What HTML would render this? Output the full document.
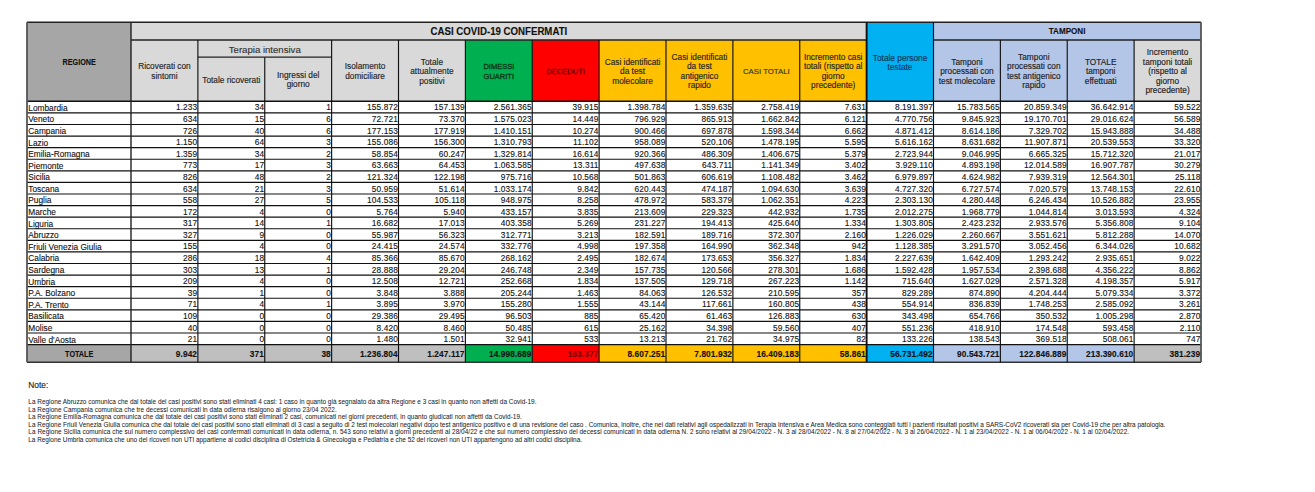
<!DOCTYPE html>
<html><head><meta charset="utf-8"><title>COVID-19</title>
<style>
html,body{margin:0;padding:0;background:#fff;}
body{width:1315px;height:492px;position:relative;overflow:hidden;font-family:"Liberation Sans", sans-serif;-webkit-text-stroke:0.12px currentColor;}
svg{position:absolute;left:0;top:0;}
</style></head><body>
<svg width="1315" height="492" viewBox="0 0 1315 492"><rect x="27.00" y="22.30" width="104.00" height="79.00" fill="#A6A6A6"/><rect x="131.00" y="22.30" width="735.62" height="17.70" fill="#D9D9D9"/><rect x="866.62" y="22.30" width="66.88" height="79.00" fill="#00B0F0"/><rect x="933.50" y="22.30" width="267.50" height="17.70" fill="#B4C6E7"/><rect x="131.00" y="40.00" width="66.88" height="61.30" fill="#D9D9D9"/><rect x="197.88" y="40.00" width="66.88" height="61.30" fill="#D9D9D9"/><rect x="264.75" y="40.00" width="66.88" height="61.30" fill="#D9D9D9"/><rect x="331.62" y="40.00" width="66.88" height="61.30" fill="#D9D9D9"/><rect x="398.50" y="40.00" width="66.88" height="61.30" fill="#D9D9D9"/><rect x="465.38" y="40.00" width="66.88" height="61.30" fill="#00B050"/><rect x="532.25" y="40.00" width="66.88" height="61.30" fill="#FF0000"/><rect x="599.12" y="40.00" width="66.88" height="61.30" fill="#FFC000"/><rect x="666.00" y="40.00" width="66.88" height="61.30" fill="#FFC000"/><rect x="732.88" y="40.00" width="66.88" height="61.30" fill="#FFC000"/><rect x="799.75" y="40.00" width="66.88" height="61.30" fill="#FFC000"/><rect x="933.50" y="40.00" width="66.88" height="61.30" fill="#B4C6E7"/><rect x="1000.38" y="40.00" width="66.88" height="61.30" fill="#B4C6E7"/><rect x="1067.25" y="40.00" width="66.88" height="61.30" fill="#B4C6E7"/><rect x="1134.12" y="40.00" width="66.88" height="61.30" fill="#D9D9D9"/><rect x="27.00" y="344.61" width="104.00" height="17.59" fill="#A6A6A6"/><rect x="131.00" y="344.61" width="66.88" height="17.59" fill="#BFBFBF"/><rect x="197.88" y="344.61" width="66.88" height="17.59" fill="#BFBFBF"/><rect x="264.75" y="344.61" width="66.88" height="17.59" fill="#BFBFBF"/><rect x="331.62" y="344.61" width="66.88" height="17.59" fill="#BFBFBF"/><rect x="398.50" y="344.61" width="66.88" height="17.59" fill="#BFBFBF"/><rect x="465.38" y="344.61" width="66.88" height="17.59" fill="#00B050"/><rect x="532.25" y="344.61" width="66.88" height="17.59" fill="#FF0000"/><rect x="599.12" y="344.61" width="66.88" height="17.59" fill="#FFC000"/><rect x="666.00" y="344.61" width="66.88" height="17.59" fill="#FFC000"/><rect x="732.88" y="344.61" width="66.88" height="17.59" fill="#FFC000"/><rect x="799.75" y="344.61" width="66.88" height="17.59" fill="#FFC000"/><rect x="866.62" y="344.61" width="66.88" height="17.59" fill="#00B0F0"/><rect x="933.50" y="344.61" width="66.88" height="17.59" fill="#B4C6E7"/><rect x="1000.38" y="344.61" width="66.88" height="17.59" fill="#B4C6E7"/><rect x="1067.25" y="344.61" width="66.88" height="17.59" fill="#B4C6E7"/><rect x="1134.12" y="344.61" width="66.88" height="17.59" fill="#BFBFBF"/><line x1="27.00" y1="22.30" x2="1201.00" y2="22.30" stroke="#222" stroke-width="1.4"/><line x1="131.00" y1="40.00" x2="866.62" y2="40.00" stroke="#222" stroke-width="1.3"/><line x1="933.50" y1="40.00" x2="1201.00" y2="40.00" stroke="#222" stroke-width="1.3"/><line x1="197.88" y1="57.20" x2="331.62" y2="57.20" stroke="#222" stroke-width="1.3"/><line x1="27.00" y1="101.30" x2="1201.00" y2="101.30" stroke="#111" stroke-width="1.4"/><line x1="27.00" y1="112.89" x2="1201.00" y2="112.89" stroke="#111" stroke-width="1.15"/><line x1="27.00" y1="124.47" x2="1201.00" y2="124.47" stroke="#111" stroke-width="1.15"/><line x1="27.00" y1="136.06" x2="1201.00" y2="136.06" stroke="#111" stroke-width="1.15"/><line x1="27.00" y1="147.64" x2="1201.00" y2="147.64" stroke="#111" stroke-width="1.15"/><line x1="27.00" y1="159.23" x2="1201.00" y2="159.23" stroke="#111" stroke-width="1.15"/><line x1="27.00" y1="170.82" x2="1201.00" y2="170.82" stroke="#111" stroke-width="1.15"/><line x1="27.00" y1="182.40" x2="1201.00" y2="182.40" stroke="#111" stroke-width="1.15"/><line x1="27.00" y1="193.99" x2="1201.00" y2="193.99" stroke="#111" stroke-width="1.15"/><line x1="27.00" y1="205.57" x2="1201.00" y2="205.57" stroke="#111" stroke-width="1.15"/><line x1="27.00" y1="217.16" x2="1201.00" y2="217.16" stroke="#111" stroke-width="1.15"/><line x1="27.00" y1="228.75" x2="1201.00" y2="228.75" stroke="#111" stroke-width="1.15"/><line x1="27.00" y1="240.33" x2="1201.00" y2="240.33" stroke="#111" stroke-width="1.15"/><line x1="27.00" y1="251.92" x2="1201.00" y2="251.92" stroke="#111" stroke-width="1.15"/><line x1="27.00" y1="263.50" x2="1201.00" y2="263.50" stroke="#111" stroke-width="1.15"/><line x1="27.00" y1="275.09" x2="1201.00" y2="275.09" stroke="#111" stroke-width="1.15"/><line x1="27.00" y1="286.68" x2="1201.00" y2="286.68" stroke="#111" stroke-width="1.15"/><line x1="27.00" y1="298.26" x2="1201.00" y2="298.26" stroke="#111" stroke-width="1.15"/><line x1="27.00" y1="309.85" x2="1201.00" y2="309.85" stroke="#111" stroke-width="1.15"/><line x1="27.00" y1="321.43" x2="1201.00" y2="321.43" stroke="#111" stroke-width="1.15"/><line x1="27.00" y1="333.02" x2="1201.00" y2="333.02" stroke="#111" stroke-width="1.15"/><line x1="27.00" y1="344.61" x2="1201.00" y2="344.61" stroke="#111" stroke-width="1.4"/><line x1="27.00" y1="362.20" x2="1201.00" y2="362.20" stroke="#333" stroke-width="1.6"/><line x1="27.00" y1="22.30" x2="27.00" y2="362.20" stroke="#555" stroke-width="1.8"/><line x1="131.00" y1="22.30" x2="131.00" y2="362.20" stroke="#222" stroke-width="1.4"/><line x1="197.88" y1="40.00" x2="197.88" y2="362.20" stroke="#111" stroke-width="1.15"/><line x1="264.75" y1="57.20" x2="264.75" y2="362.20" stroke="#111" stroke-width="1.15"/><line x1="331.62" y1="40.00" x2="331.62" y2="362.20" stroke="#111" stroke-width="1.15"/><line x1="398.50" y1="40.00" x2="398.50" y2="362.20" stroke="#111" stroke-width="1.15"/><line x1="465.38" y1="40.00" x2="465.38" y2="362.20" stroke="#111" stroke-width="1.15"/><line x1="532.25" y1="40.00" x2="532.25" y2="362.20" stroke="#111" stroke-width="1.15"/><line x1="599.12" y1="40.00" x2="599.12" y2="362.20" stroke="#111" stroke-width="1.15"/><line x1="666.00" y1="40.00" x2="666.00" y2="362.20" stroke="#111" stroke-width="1.15"/><line x1="732.88" y1="40.00" x2="732.88" y2="362.20" stroke="#111" stroke-width="1.15"/><line x1="799.75" y1="40.00" x2="799.75" y2="362.20" stroke="#111" stroke-width="1.15"/><line x1="866.62" y1="22.30" x2="866.62" y2="362.20" stroke="#111" stroke-width="1.9"/><line x1="933.50" y1="22.30" x2="933.50" y2="362.20" stroke="#111" stroke-width="1.15"/><line x1="1000.38" y1="40.00" x2="1000.38" y2="362.20" stroke="#111" stroke-width="1.15"/><line x1="1067.25" y1="40.00" x2="1067.25" y2="362.20" stroke="#111" stroke-width="1.15"/><line x1="1134.12" y1="40.00" x2="1134.12" y2="362.20" stroke="#111" stroke-width="1.15"/><line x1="1201.00" y1="22.30" x2="1201.00" y2="362.20" stroke="#555" stroke-width="1.8"/></svg>
<div style="position:absolute;left:27.00px;top:22.60px;width:104.00px;height:79.00px;display:flex;align-items:center;justify-content:center;text-align:center;font-size:8.3px;font-weight:bold;color:#111;"><span style="display:inline-block;transform:scaleX(0.87)">REGIONE</span></div>
<div style="position:absolute;left:131.00px;top:22.50px;width:735.62px;height:17.70px;display:flex;align-items:center;justify-content:center;text-align:center;font-size:11.3px;font-weight:bold;color:#111;"><span style="display:inline-block;transform:scaleX(0.855)">CASI COVID-19 CONFERMATI</span></div>
<div style="position:absolute;left:933.50px;top:22.50px;width:267.50px;height:17.70px;display:flex;align-items:center;justify-content:center;text-align:center;font-size:9.3px;font-weight:bold;color:#111;"><span style="display:inline-block;transform:scaleX(0.87)">TAMPONI</span></div>
<div style="position:absolute;left:197.88px;top:40.80px;width:133.75px;height:17.20px;display:flex;align-items:center;justify-content:center;text-align:center;font-size:9.6px;font-weight:normal;color:#333;-webkit-text-stroke:0.15px currentColor;"><span>Terapia intensiva</span></div>
<div style="position:absolute;left:131.00px;top:41.20px;width:66.88px;height:61.30px;display:flex;align-items:center;justify-content:center;text-align:center;font-size:8.3px;font-weight:normal;color:#262626;line-height:9.4px;-webkit-text-stroke:0.15px currentColor;"><span>Ricoverati con<br>sintomi</span></div>
<div style="position:absolute;left:197.88px;top:58.40px;width:66.88px;height:44.10px;display:flex;align-items:center;justify-content:center;text-align:center;font-size:8.3px;font-weight:normal;color:#262626;line-height:9.4px;-webkit-text-stroke:0.15px currentColor;"><span>Totale ricoverati</span></div>
<div style="position:absolute;left:264.75px;top:58.40px;width:66.88px;height:44.10px;display:flex;align-items:center;justify-content:center;text-align:center;font-size:8.3px;font-weight:normal;color:#262626;line-height:9.4px;-webkit-text-stroke:0.15px currentColor;"><span>Ingressi del<br>giorno</span></div>
<div style="position:absolute;left:331.62px;top:41.20px;width:66.88px;height:61.30px;display:flex;align-items:center;justify-content:center;text-align:center;font-size:8.3px;font-weight:normal;color:#262626;line-height:9.4px;-webkit-text-stroke:0.15px currentColor;"><span>Isolamento<br>domiciliare</span></div>
<div style="position:absolute;left:398.50px;top:41.20px;width:66.88px;height:61.30px;display:flex;align-items:center;justify-content:center;text-align:center;font-size:8.3px;font-weight:normal;color:#262626;line-height:9.4px;-webkit-text-stroke:0.15px currentColor;"><span>Totale<br>attualmente<br>positivi</span></div>
<div style="position:absolute;left:465.38px;top:41.20px;width:66.88px;height:61.30px;display:flex;align-items:center;justify-content:center;text-align:center;font-size:7.5px;font-weight:normal;color:#073514;line-height:10.0px;-webkit-text-stroke:0.3px currentColor;"><span>DIMESSI<br>GUARITI</span></div>
<div style="position:absolute;left:532.25px;top:41.20px;width:66.88px;height:61.30px;display:flex;align-items:center;justify-content:center;text-align:center;font-size:7.5px;font-weight:normal;color:#5a0000;line-height:10.0px;-webkit-text-stroke:0.3px currentColor;"><span>DECEDUTI</span></div>
<div style="position:absolute;left:599.12px;top:41.20px;width:66.88px;height:61.30px;display:flex;align-items:center;justify-content:center;text-align:center;font-size:8.3px;font-weight:normal;color:#262626;line-height:9.4px;-webkit-text-stroke:0.15px currentColor;"><span>Casi identificati<br>da test<br>molecolare</span></div>
<div style="position:absolute;left:666.00px;top:41.20px;width:66.88px;height:61.30px;display:flex;align-items:center;justify-content:center;text-align:center;font-size:8.3px;font-weight:normal;color:#262626;line-height:9.4px;-webkit-text-stroke:0.15px currentColor;"><span>Casi identificati<br>da test<br>antigenico<br>rapido</span></div>
<div style="position:absolute;left:732.88px;top:41.20px;width:66.88px;height:61.30px;display:flex;align-items:center;justify-content:center;text-align:center;font-size:7.8px;font-weight:normal;color:#333;line-height:9.4px;-webkit-text-stroke:0.15px currentColor;"><span>CASI TOTALI</span></div>
<div style="position:absolute;left:799.75px;top:41.20px;width:66.88px;height:61.30px;display:flex;align-items:center;justify-content:center;text-align:center;font-size:8.3px;font-weight:normal;color:#262626;line-height:9.4px;-webkit-text-stroke:0.15px currentColor;"><span>Incremento casi<br>totali (rispetto al<br>giorno<br>precedente)</span></div>
<div style="position:absolute;left:866.62px;top:23.50px;width:66.88px;height:79.00px;display:flex;align-items:center;justify-content:center;text-align:center;font-size:8.3px;font-weight:normal;color:#14365a;line-height:9.4px;-webkit-text-stroke:0.15px currentColor;"><span>Totale persone<br>testate</span></div>
<div style="position:absolute;left:933.50px;top:41.20px;width:66.88px;height:61.30px;display:flex;align-items:center;justify-content:center;text-align:center;font-size:8.3px;font-weight:normal;color:#222;line-height:9.4px;-webkit-text-stroke:0.15px currentColor;"><span>Tamponi<br>processati con<br>test molecolare</span></div>
<div style="position:absolute;left:1000.38px;top:41.20px;width:66.88px;height:61.30px;display:flex;align-items:center;justify-content:center;text-align:center;font-size:8.3px;font-weight:normal;color:#222;line-height:9.4px;-webkit-text-stroke:0.15px currentColor;"><span>Tamponi<br>processati con<br>test antigenico<br>rapido</span></div>
<div style="position:absolute;left:1067.25px;top:41.20px;width:66.88px;height:61.30px;display:flex;align-items:center;justify-content:center;text-align:center;font-size:8.3px;font-weight:normal;color:#222;line-height:9.4px;-webkit-text-stroke:0.15px currentColor;"><span>TOTALE<br>tamponi<br>effettuati</span></div>
<div style="position:absolute;left:1134.12px;top:41.20px;width:66.88px;height:61.30px;display:flex;align-items:center;justify-content:center;text-align:center;font-size:8.3px;font-weight:normal;color:#222;line-height:9.4px;-webkit-text-stroke:0.15px currentColor;"><span>Incremento<br>tamponi totali<br>(rispetto al<br>giorno<br>precedente)</span></div>
<div style="position:absolute;left:28.30px;top:102.80px;height:11.59px;line-height:11.59px;font-size:8.3px;color:#111;white-space:nowrap">Lombardia</div>
<div style="position:absolute;right:1117.83px;top:102.40px;height:11.59px;line-height:11.59px;font-size:8.3px;color:#111;white-space:nowrap;letter-spacing:0.12px;margin-right:-0.12px">1.233</div>
<div style="position:absolute;right:1050.95px;top:102.40px;height:11.59px;line-height:11.59px;font-size:8.3px;color:#111;white-space:nowrap;letter-spacing:0.12px;margin-right:-0.12px">34</div>
<div style="position:absolute;right:984.08px;top:102.40px;height:11.59px;line-height:11.59px;font-size:8.3px;color:#111;white-space:nowrap;letter-spacing:0.12px;margin-right:-0.12px">1</div>
<div style="position:absolute;right:917.20px;top:102.40px;height:11.59px;line-height:11.59px;font-size:8.3px;color:#111;white-space:nowrap;letter-spacing:0.12px;margin-right:-0.12px">155.872</div>
<div style="position:absolute;right:850.33px;top:102.40px;height:11.59px;line-height:11.59px;font-size:8.3px;color:#111;white-space:nowrap;letter-spacing:0.12px;margin-right:-0.12px">157.139</div>
<div style="position:absolute;right:783.45px;top:102.40px;height:11.59px;line-height:11.59px;font-size:8.3px;color:#111;white-space:nowrap;letter-spacing:0.12px;margin-right:-0.12px">2.561.365</div>
<div style="position:absolute;right:716.58px;top:102.40px;height:11.59px;line-height:11.59px;font-size:8.3px;color:#111;white-space:nowrap;letter-spacing:0.12px;margin-right:-0.12px">39.915</div>
<div style="position:absolute;right:649.70px;top:102.40px;height:11.59px;line-height:11.59px;font-size:8.3px;color:#111;white-space:nowrap;letter-spacing:0.12px;margin-right:-0.12px">1.398.784</div>
<div style="position:absolute;right:582.83px;top:102.40px;height:11.59px;line-height:11.59px;font-size:8.3px;color:#111;white-space:nowrap;letter-spacing:0.12px;margin-right:-0.12px">1.359.635</div>
<div style="position:absolute;right:515.95px;top:102.40px;height:11.59px;line-height:11.59px;font-size:8.3px;color:#111;white-space:nowrap;letter-spacing:0.12px;margin-right:-0.12px">2.758.419</div>
<div style="position:absolute;right:449.08px;top:102.40px;height:11.59px;line-height:11.59px;font-size:8.3px;color:#111;white-space:nowrap;letter-spacing:0.12px;margin-right:-0.12px">7.631</div>
<div style="position:absolute;right:382.20px;top:102.40px;height:11.59px;line-height:11.59px;font-size:8.3px;color:#111;white-space:nowrap;letter-spacing:0.12px;margin-right:-0.12px">8.191.397</div>
<div style="position:absolute;right:315.33px;top:102.40px;height:11.59px;line-height:11.59px;font-size:8.3px;color:#111;white-space:nowrap;letter-spacing:0.12px;margin-right:-0.12px">15.783.565</div>
<div style="position:absolute;right:248.45px;top:102.40px;height:11.59px;line-height:11.59px;font-size:8.3px;color:#111;white-space:nowrap;letter-spacing:0.12px;margin-right:-0.12px">20.859.349</div>
<div style="position:absolute;right:181.58px;top:102.40px;height:11.59px;line-height:11.59px;font-size:8.3px;color:#111;white-space:nowrap;letter-spacing:0.12px;margin-right:-0.12px">36.642.914</div>
<div style="position:absolute;right:114.70px;top:102.40px;height:11.59px;line-height:11.59px;font-size:8.3px;color:#111;white-space:nowrap;letter-spacing:0.12px;margin-right:-0.12px">59.522</div>
<div style="position:absolute;left:28.30px;top:114.39px;height:11.59px;line-height:11.59px;font-size:8.3px;color:#111;white-space:nowrap">Veneto</div>
<div style="position:absolute;right:1117.83px;top:113.99px;height:11.59px;line-height:11.59px;font-size:8.3px;color:#111;white-space:nowrap;letter-spacing:0.12px;margin-right:-0.12px">634</div>
<div style="position:absolute;right:1050.95px;top:113.99px;height:11.59px;line-height:11.59px;font-size:8.3px;color:#111;white-space:nowrap;letter-spacing:0.12px;margin-right:-0.12px">15</div>
<div style="position:absolute;right:984.08px;top:113.99px;height:11.59px;line-height:11.59px;font-size:8.3px;color:#111;white-space:nowrap;letter-spacing:0.12px;margin-right:-0.12px">6</div>
<div style="position:absolute;right:917.20px;top:113.99px;height:11.59px;line-height:11.59px;font-size:8.3px;color:#111;white-space:nowrap;letter-spacing:0.12px;margin-right:-0.12px">72.721</div>
<div style="position:absolute;right:850.33px;top:113.99px;height:11.59px;line-height:11.59px;font-size:8.3px;color:#111;white-space:nowrap;letter-spacing:0.12px;margin-right:-0.12px">73.370</div>
<div style="position:absolute;right:783.45px;top:113.99px;height:11.59px;line-height:11.59px;font-size:8.3px;color:#111;white-space:nowrap;letter-spacing:0.12px;margin-right:-0.12px">1.575.023</div>
<div style="position:absolute;right:716.58px;top:113.99px;height:11.59px;line-height:11.59px;font-size:8.3px;color:#111;white-space:nowrap;letter-spacing:0.12px;margin-right:-0.12px">14.449</div>
<div style="position:absolute;right:649.70px;top:113.99px;height:11.59px;line-height:11.59px;font-size:8.3px;color:#111;white-space:nowrap;letter-spacing:0.12px;margin-right:-0.12px">796.929</div>
<div style="position:absolute;right:582.83px;top:113.99px;height:11.59px;line-height:11.59px;font-size:8.3px;color:#111;white-space:nowrap;letter-spacing:0.12px;margin-right:-0.12px">865.913</div>
<div style="position:absolute;right:515.95px;top:113.99px;height:11.59px;line-height:11.59px;font-size:8.3px;color:#111;white-space:nowrap;letter-spacing:0.12px;margin-right:-0.12px">1.662.842</div>
<div style="position:absolute;right:449.08px;top:113.99px;height:11.59px;line-height:11.59px;font-size:8.3px;color:#111;white-space:nowrap;letter-spacing:0.12px;margin-right:-0.12px">6.121</div>
<div style="position:absolute;right:382.20px;top:113.99px;height:11.59px;line-height:11.59px;font-size:8.3px;color:#111;white-space:nowrap;letter-spacing:0.12px;margin-right:-0.12px">4.770.756</div>
<div style="position:absolute;right:315.33px;top:113.99px;height:11.59px;line-height:11.59px;font-size:8.3px;color:#111;white-space:nowrap;letter-spacing:0.12px;margin-right:-0.12px">9.845.923</div>
<div style="position:absolute;right:248.45px;top:113.99px;height:11.59px;line-height:11.59px;font-size:8.3px;color:#111;white-space:nowrap;letter-spacing:0.12px;margin-right:-0.12px">19.170.701</div>
<div style="position:absolute;right:181.58px;top:113.99px;height:11.59px;line-height:11.59px;font-size:8.3px;color:#111;white-space:nowrap;letter-spacing:0.12px;margin-right:-0.12px">29.016.624</div>
<div style="position:absolute;right:114.70px;top:113.99px;height:11.59px;line-height:11.59px;font-size:8.3px;color:#111;white-space:nowrap;letter-spacing:0.12px;margin-right:-0.12px">56.589</div>
<div style="position:absolute;left:28.30px;top:125.97px;height:11.59px;line-height:11.59px;font-size:8.3px;color:#111;white-space:nowrap">Campania</div>
<div style="position:absolute;right:1117.83px;top:125.57px;height:11.59px;line-height:11.59px;font-size:8.3px;color:#111;white-space:nowrap;letter-spacing:0.12px;margin-right:-0.12px">726</div>
<div style="position:absolute;right:1050.95px;top:125.57px;height:11.59px;line-height:11.59px;font-size:8.3px;color:#111;white-space:nowrap;letter-spacing:0.12px;margin-right:-0.12px">40</div>
<div style="position:absolute;right:984.08px;top:125.57px;height:11.59px;line-height:11.59px;font-size:8.3px;color:#111;white-space:nowrap;letter-spacing:0.12px;margin-right:-0.12px">6</div>
<div style="position:absolute;right:917.20px;top:125.57px;height:11.59px;line-height:11.59px;font-size:8.3px;color:#111;white-space:nowrap;letter-spacing:0.12px;margin-right:-0.12px">177.153</div>
<div style="position:absolute;right:850.33px;top:125.57px;height:11.59px;line-height:11.59px;font-size:8.3px;color:#111;white-space:nowrap;letter-spacing:0.12px;margin-right:-0.12px">177.919</div>
<div style="position:absolute;right:783.45px;top:125.57px;height:11.59px;line-height:11.59px;font-size:8.3px;color:#111;white-space:nowrap;letter-spacing:0.12px;margin-right:-0.12px">1.410.151</div>
<div style="position:absolute;right:716.58px;top:125.57px;height:11.59px;line-height:11.59px;font-size:8.3px;color:#111;white-space:nowrap;letter-spacing:0.12px;margin-right:-0.12px">10.274</div>
<div style="position:absolute;right:649.70px;top:125.57px;height:11.59px;line-height:11.59px;font-size:8.3px;color:#111;white-space:nowrap;letter-spacing:0.12px;margin-right:-0.12px">900.466</div>
<div style="position:absolute;right:582.83px;top:125.57px;height:11.59px;line-height:11.59px;font-size:8.3px;color:#111;white-space:nowrap;letter-spacing:0.12px;margin-right:-0.12px">697.878</div>
<div style="position:absolute;right:515.95px;top:125.57px;height:11.59px;line-height:11.59px;font-size:8.3px;color:#111;white-space:nowrap;letter-spacing:0.12px;margin-right:-0.12px">1.598.344</div>
<div style="position:absolute;right:449.08px;top:125.57px;height:11.59px;line-height:11.59px;font-size:8.3px;color:#111;white-space:nowrap;letter-spacing:0.12px;margin-right:-0.12px">6.662</div>
<div style="position:absolute;right:382.20px;top:125.57px;height:11.59px;line-height:11.59px;font-size:8.3px;color:#111;white-space:nowrap;letter-spacing:0.12px;margin-right:-0.12px">4.871.412</div>
<div style="position:absolute;right:315.33px;top:125.57px;height:11.59px;line-height:11.59px;font-size:8.3px;color:#111;white-space:nowrap;letter-spacing:0.12px;margin-right:-0.12px">8.614.186</div>
<div style="position:absolute;right:248.45px;top:125.57px;height:11.59px;line-height:11.59px;font-size:8.3px;color:#111;white-space:nowrap;letter-spacing:0.12px;margin-right:-0.12px">7.329.702</div>
<div style="position:absolute;right:181.58px;top:125.57px;height:11.59px;line-height:11.59px;font-size:8.3px;color:#111;white-space:nowrap;letter-spacing:0.12px;margin-right:-0.12px">15.943.888</div>
<div style="position:absolute;right:114.70px;top:125.57px;height:11.59px;line-height:11.59px;font-size:8.3px;color:#111;white-space:nowrap;letter-spacing:0.12px;margin-right:-0.12px">34.488</div>
<div style="position:absolute;left:28.30px;top:137.56px;height:11.59px;line-height:11.59px;font-size:8.3px;color:#111;white-space:nowrap">Lazio</div>
<div style="position:absolute;right:1117.83px;top:137.16px;height:11.59px;line-height:11.59px;font-size:8.3px;color:#111;white-space:nowrap;letter-spacing:0.12px;margin-right:-0.12px">1.150</div>
<div style="position:absolute;right:1050.95px;top:137.16px;height:11.59px;line-height:11.59px;font-size:8.3px;color:#111;white-space:nowrap;letter-spacing:0.12px;margin-right:-0.12px">64</div>
<div style="position:absolute;right:984.08px;top:137.16px;height:11.59px;line-height:11.59px;font-size:8.3px;color:#111;white-space:nowrap;letter-spacing:0.12px;margin-right:-0.12px">3</div>
<div style="position:absolute;right:917.20px;top:137.16px;height:11.59px;line-height:11.59px;font-size:8.3px;color:#111;white-space:nowrap;letter-spacing:0.12px;margin-right:-0.12px">155.086</div>
<div style="position:absolute;right:850.33px;top:137.16px;height:11.59px;line-height:11.59px;font-size:8.3px;color:#111;white-space:nowrap;letter-spacing:0.12px;margin-right:-0.12px">156.300</div>
<div style="position:absolute;right:783.45px;top:137.16px;height:11.59px;line-height:11.59px;font-size:8.3px;color:#111;white-space:nowrap;letter-spacing:0.12px;margin-right:-0.12px">1.310.793</div>
<div style="position:absolute;right:716.58px;top:137.16px;height:11.59px;line-height:11.59px;font-size:8.3px;color:#111;white-space:nowrap;letter-spacing:0.12px;margin-right:-0.12px">11.102</div>
<div style="position:absolute;right:649.70px;top:137.16px;height:11.59px;line-height:11.59px;font-size:8.3px;color:#111;white-space:nowrap;letter-spacing:0.12px;margin-right:-0.12px">958.089</div>
<div style="position:absolute;right:582.83px;top:137.16px;height:11.59px;line-height:11.59px;font-size:8.3px;color:#111;white-space:nowrap;letter-spacing:0.12px;margin-right:-0.12px">520.106</div>
<div style="position:absolute;right:515.95px;top:137.16px;height:11.59px;line-height:11.59px;font-size:8.3px;color:#111;white-space:nowrap;letter-spacing:0.12px;margin-right:-0.12px">1.478.195</div>
<div style="position:absolute;right:449.08px;top:137.16px;height:11.59px;line-height:11.59px;font-size:8.3px;color:#111;white-space:nowrap;letter-spacing:0.12px;margin-right:-0.12px">5.595</div>
<div style="position:absolute;right:382.20px;top:137.16px;height:11.59px;line-height:11.59px;font-size:8.3px;color:#111;white-space:nowrap;letter-spacing:0.12px;margin-right:-0.12px">5.616.162</div>
<div style="position:absolute;right:315.33px;top:137.16px;height:11.59px;line-height:11.59px;font-size:8.3px;color:#111;white-space:nowrap;letter-spacing:0.12px;margin-right:-0.12px">8.631.682</div>
<div style="position:absolute;right:248.45px;top:137.16px;height:11.59px;line-height:11.59px;font-size:8.3px;color:#111;white-space:nowrap;letter-spacing:0.12px;margin-right:-0.12px">11.907.871</div>
<div style="position:absolute;right:181.58px;top:137.16px;height:11.59px;line-height:11.59px;font-size:8.3px;color:#111;white-space:nowrap;letter-spacing:0.12px;margin-right:-0.12px">20.539.553</div>
<div style="position:absolute;right:114.70px;top:137.16px;height:11.59px;line-height:11.59px;font-size:8.3px;color:#111;white-space:nowrap;letter-spacing:0.12px;margin-right:-0.12px">33.320</div>
<div style="position:absolute;left:28.30px;top:149.14px;height:11.59px;line-height:11.59px;font-size:8.3px;color:#111;white-space:nowrap">Emilia-Romagna</div>
<div style="position:absolute;right:1117.83px;top:148.74px;height:11.59px;line-height:11.59px;font-size:8.3px;color:#111;white-space:nowrap;letter-spacing:0.12px;margin-right:-0.12px">1.359</div>
<div style="position:absolute;right:1050.95px;top:148.74px;height:11.59px;line-height:11.59px;font-size:8.3px;color:#111;white-space:nowrap;letter-spacing:0.12px;margin-right:-0.12px">34</div>
<div style="position:absolute;right:984.08px;top:148.74px;height:11.59px;line-height:11.59px;font-size:8.3px;color:#111;white-space:nowrap;letter-spacing:0.12px;margin-right:-0.12px">2</div>
<div style="position:absolute;right:917.20px;top:148.74px;height:11.59px;line-height:11.59px;font-size:8.3px;color:#111;white-space:nowrap;letter-spacing:0.12px;margin-right:-0.12px">58.854</div>
<div style="position:absolute;right:850.33px;top:148.74px;height:11.59px;line-height:11.59px;font-size:8.3px;color:#111;white-space:nowrap;letter-spacing:0.12px;margin-right:-0.12px">60.247</div>
<div style="position:absolute;right:783.45px;top:148.74px;height:11.59px;line-height:11.59px;font-size:8.3px;color:#111;white-space:nowrap;letter-spacing:0.12px;margin-right:-0.12px">1.329.814</div>
<div style="position:absolute;right:716.58px;top:148.74px;height:11.59px;line-height:11.59px;font-size:8.3px;color:#111;white-space:nowrap;letter-spacing:0.12px;margin-right:-0.12px">16.614</div>
<div style="position:absolute;right:649.70px;top:148.74px;height:11.59px;line-height:11.59px;font-size:8.3px;color:#111;white-space:nowrap;letter-spacing:0.12px;margin-right:-0.12px">920.366</div>
<div style="position:absolute;right:582.83px;top:148.74px;height:11.59px;line-height:11.59px;font-size:8.3px;color:#111;white-space:nowrap;letter-spacing:0.12px;margin-right:-0.12px">486.309</div>
<div style="position:absolute;right:515.95px;top:148.74px;height:11.59px;line-height:11.59px;font-size:8.3px;color:#111;white-space:nowrap;letter-spacing:0.12px;margin-right:-0.12px">1.406.675</div>
<div style="position:absolute;right:449.08px;top:148.74px;height:11.59px;line-height:11.59px;font-size:8.3px;color:#111;white-space:nowrap;letter-spacing:0.12px;margin-right:-0.12px">5.379</div>
<div style="position:absolute;right:382.20px;top:148.74px;height:11.59px;line-height:11.59px;font-size:8.3px;color:#111;white-space:nowrap;letter-spacing:0.12px;margin-right:-0.12px">2.723.944</div>
<div style="position:absolute;right:315.33px;top:148.74px;height:11.59px;line-height:11.59px;font-size:8.3px;color:#111;white-space:nowrap;letter-spacing:0.12px;margin-right:-0.12px">9.046.995</div>
<div style="position:absolute;right:248.45px;top:148.74px;height:11.59px;line-height:11.59px;font-size:8.3px;color:#111;white-space:nowrap;letter-spacing:0.12px;margin-right:-0.12px">6.665.325</div>
<div style="position:absolute;right:181.58px;top:148.74px;height:11.59px;line-height:11.59px;font-size:8.3px;color:#111;white-space:nowrap;letter-spacing:0.12px;margin-right:-0.12px">15.712.320</div>
<div style="position:absolute;right:114.70px;top:148.74px;height:11.59px;line-height:11.59px;font-size:8.3px;color:#111;white-space:nowrap;letter-spacing:0.12px;margin-right:-0.12px">21.017</div>
<div style="position:absolute;left:28.30px;top:160.73px;height:11.59px;line-height:11.59px;font-size:8.3px;color:#111;white-space:nowrap">Piemonte</div>
<div style="position:absolute;right:1117.83px;top:160.33px;height:11.59px;line-height:11.59px;font-size:8.3px;color:#111;white-space:nowrap;letter-spacing:0.12px;margin-right:-0.12px">773</div>
<div style="position:absolute;right:1050.95px;top:160.33px;height:11.59px;line-height:11.59px;font-size:8.3px;color:#111;white-space:nowrap;letter-spacing:0.12px;margin-right:-0.12px">17</div>
<div style="position:absolute;right:984.08px;top:160.33px;height:11.59px;line-height:11.59px;font-size:8.3px;color:#111;white-space:nowrap;letter-spacing:0.12px;margin-right:-0.12px">3</div>
<div style="position:absolute;right:917.20px;top:160.33px;height:11.59px;line-height:11.59px;font-size:8.3px;color:#111;white-space:nowrap;letter-spacing:0.12px;margin-right:-0.12px">63.663</div>
<div style="position:absolute;right:850.33px;top:160.33px;height:11.59px;line-height:11.59px;font-size:8.3px;color:#111;white-space:nowrap;letter-spacing:0.12px;margin-right:-0.12px">64.453</div>
<div style="position:absolute;right:783.45px;top:160.33px;height:11.59px;line-height:11.59px;font-size:8.3px;color:#111;white-space:nowrap;letter-spacing:0.12px;margin-right:-0.12px">1.063.585</div>
<div style="position:absolute;right:716.58px;top:160.33px;height:11.59px;line-height:11.59px;font-size:8.3px;color:#111;white-space:nowrap;letter-spacing:0.12px;margin-right:-0.12px">13.311</div>
<div style="position:absolute;right:649.70px;top:160.33px;height:11.59px;line-height:11.59px;font-size:8.3px;color:#111;white-space:nowrap;letter-spacing:0.12px;margin-right:-0.12px">497.638</div>
<div style="position:absolute;right:582.83px;top:160.33px;height:11.59px;line-height:11.59px;font-size:8.3px;color:#111;white-space:nowrap;letter-spacing:0.12px;margin-right:-0.12px">643.711</div>
<div style="position:absolute;right:515.95px;top:160.33px;height:11.59px;line-height:11.59px;font-size:8.3px;color:#111;white-space:nowrap;letter-spacing:0.12px;margin-right:-0.12px">1.141.349</div>
<div style="position:absolute;right:449.08px;top:160.33px;height:11.59px;line-height:11.59px;font-size:8.3px;color:#111;white-space:nowrap;letter-spacing:0.12px;margin-right:-0.12px">3.402</div>
<div style="position:absolute;right:382.20px;top:160.33px;height:11.59px;line-height:11.59px;font-size:8.3px;color:#111;white-space:nowrap;letter-spacing:0.12px;margin-right:-0.12px">3.929.110</div>
<div style="position:absolute;right:315.33px;top:160.33px;height:11.59px;line-height:11.59px;font-size:8.3px;color:#111;white-space:nowrap;letter-spacing:0.12px;margin-right:-0.12px">4.893.198</div>
<div style="position:absolute;right:248.45px;top:160.33px;height:11.59px;line-height:11.59px;font-size:8.3px;color:#111;white-space:nowrap;letter-spacing:0.12px;margin-right:-0.12px">12.014.589</div>
<div style="position:absolute;right:181.58px;top:160.33px;height:11.59px;line-height:11.59px;font-size:8.3px;color:#111;white-space:nowrap;letter-spacing:0.12px;margin-right:-0.12px">16.907.787</div>
<div style="position:absolute;right:114.70px;top:160.33px;height:11.59px;line-height:11.59px;font-size:8.3px;color:#111;white-space:nowrap;letter-spacing:0.12px;margin-right:-0.12px">30.279</div>
<div style="position:absolute;left:28.30px;top:172.32px;height:11.59px;line-height:11.59px;font-size:8.3px;color:#111;white-space:nowrap">Sicilia</div>
<div style="position:absolute;right:1117.83px;top:171.92px;height:11.59px;line-height:11.59px;font-size:8.3px;color:#111;white-space:nowrap;letter-spacing:0.12px;margin-right:-0.12px">826</div>
<div style="position:absolute;right:1050.95px;top:171.92px;height:11.59px;line-height:11.59px;font-size:8.3px;color:#111;white-space:nowrap;letter-spacing:0.12px;margin-right:-0.12px">48</div>
<div style="position:absolute;right:984.08px;top:171.92px;height:11.59px;line-height:11.59px;font-size:8.3px;color:#111;white-space:nowrap;letter-spacing:0.12px;margin-right:-0.12px">2</div>
<div style="position:absolute;right:917.20px;top:171.92px;height:11.59px;line-height:11.59px;font-size:8.3px;color:#111;white-space:nowrap;letter-spacing:0.12px;margin-right:-0.12px">121.324</div>
<div style="position:absolute;right:850.33px;top:171.92px;height:11.59px;line-height:11.59px;font-size:8.3px;color:#111;white-space:nowrap;letter-spacing:0.12px;margin-right:-0.12px">122.198</div>
<div style="position:absolute;right:783.45px;top:171.92px;height:11.59px;line-height:11.59px;font-size:8.3px;color:#111;white-space:nowrap;letter-spacing:0.12px;margin-right:-0.12px">975.716</div>
<div style="position:absolute;right:716.58px;top:171.92px;height:11.59px;line-height:11.59px;font-size:8.3px;color:#111;white-space:nowrap;letter-spacing:0.12px;margin-right:-0.12px">10.568</div>
<div style="position:absolute;right:649.70px;top:171.92px;height:11.59px;line-height:11.59px;font-size:8.3px;color:#111;white-space:nowrap;letter-spacing:0.12px;margin-right:-0.12px">501.863</div>
<div style="position:absolute;right:582.83px;top:171.92px;height:11.59px;line-height:11.59px;font-size:8.3px;color:#111;white-space:nowrap;letter-spacing:0.12px;margin-right:-0.12px">606.619</div>
<div style="position:absolute;right:515.95px;top:171.92px;height:11.59px;line-height:11.59px;font-size:8.3px;color:#111;white-space:nowrap;letter-spacing:0.12px;margin-right:-0.12px">1.108.482</div>
<div style="position:absolute;right:449.08px;top:171.92px;height:11.59px;line-height:11.59px;font-size:8.3px;color:#111;white-space:nowrap;letter-spacing:0.12px;margin-right:-0.12px">3.462</div>
<div style="position:absolute;right:382.20px;top:171.92px;height:11.59px;line-height:11.59px;font-size:8.3px;color:#111;white-space:nowrap;letter-spacing:0.12px;margin-right:-0.12px">6.979.897</div>
<div style="position:absolute;right:315.33px;top:171.92px;height:11.59px;line-height:11.59px;font-size:8.3px;color:#111;white-space:nowrap;letter-spacing:0.12px;margin-right:-0.12px">4.624.982</div>
<div style="position:absolute;right:248.45px;top:171.92px;height:11.59px;line-height:11.59px;font-size:8.3px;color:#111;white-space:nowrap;letter-spacing:0.12px;margin-right:-0.12px">7.939.319</div>
<div style="position:absolute;right:181.58px;top:171.92px;height:11.59px;line-height:11.59px;font-size:8.3px;color:#111;white-space:nowrap;letter-spacing:0.12px;margin-right:-0.12px">12.564.301</div>
<div style="position:absolute;right:114.70px;top:171.92px;height:11.59px;line-height:11.59px;font-size:8.3px;color:#111;white-space:nowrap;letter-spacing:0.12px;margin-right:-0.12px">25.118</div>
<div style="position:absolute;left:28.30px;top:183.90px;height:11.59px;line-height:11.59px;font-size:8.3px;color:#111;white-space:nowrap">Toscana</div>
<div style="position:absolute;right:1117.83px;top:183.50px;height:11.59px;line-height:11.59px;font-size:8.3px;color:#111;white-space:nowrap;letter-spacing:0.12px;margin-right:-0.12px">634</div>
<div style="position:absolute;right:1050.95px;top:183.50px;height:11.59px;line-height:11.59px;font-size:8.3px;color:#111;white-space:nowrap;letter-spacing:0.12px;margin-right:-0.12px">21</div>
<div style="position:absolute;right:984.08px;top:183.50px;height:11.59px;line-height:11.59px;font-size:8.3px;color:#111;white-space:nowrap;letter-spacing:0.12px;margin-right:-0.12px">3</div>
<div style="position:absolute;right:917.20px;top:183.50px;height:11.59px;line-height:11.59px;font-size:8.3px;color:#111;white-space:nowrap;letter-spacing:0.12px;margin-right:-0.12px">50.959</div>
<div style="position:absolute;right:850.33px;top:183.50px;height:11.59px;line-height:11.59px;font-size:8.3px;color:#111;white-space:nowrap;letter-spacing:0.12px;margin-right:-0.12px">51.614</div>
<div style="position:absolute;right:783.45px;top:183.50px;height:11.59px;line-height:11.59px;font-size:8.3px;color:#111;white-space:nowrap;letter-spacing:0.12px;margin-right:-0.12px">1.033.174</div>
<div style="position:absolute;right:716.58px;top:183.50px;height:11.59px;line-height:11.59px;font-size:8.3px;color:#111;white-space:nowrap;letter-spacing:0.12px;margin-right:-0.12px">9.842</div>
<div style="position:absolute;right:649.70px;top:183.50px;height:11.59px;line-height:11.59px;font-size:8.3px;color:#111;white-space:nowrap;letter-spacing:0.12px;margin-right:-0.12px">620.443</div>
<div style="position:absolute;right:582.83px;top:183.50px;height:11.59px;line-height:11.59px;font-size:8.3px;color:#111;white-space:nowrap;letter-spacing:0.12px;margin-right:-0.12px">474.187</div>
<div style="position:absolute;right:515.95px;top:183.50px;height:11.59px;line-height:11.59px;font-size:8.3px;color:#111;white-space:nowrap;letter-spacing:0.12px;margin-right:-0.12px">1.094.630</div>
<div style="position:absolute;right:449.08px;top:183.50px;height:11.59px;line-height:11.59px;font-size:8.3px;color:#111;white-space:nowrap;letter-spacing:0.12px;margin-right:-0.12px">3.639</div>
<div style="position:absolute;right:382.20px;top:183.50px;height:11.59px;line-height:11.59px;font-size:8.3px;color:#111;white-space:nowrap;letter-spacing:0.12px;margin-right:-0.12px">4.727.320</div>
<div style="position:absolute;right:315.33px;top:183.50px;height:11.59px;line-height:11.59px;font-size:8.3px;color:#111;white-space:nowrap;letter-spacing:0.12px;margin-right:-0.12px">6.727.574</div>
<div style="position:absolute;right:248.45px;top:183.50px;height:11.59px;line-height:11.59px;font-size:8.3px;color:#111;white-space:nowrap;letter-spacing:0.12px;margin-right:-0.12px">7.020.579</div>
<div style="position:absolute;right:181.58px;top:183.50px;height:11.59px;line-height:11.59px;font-size:8.3px;color:#111;white-space:nowrap;letter-spacing:0.12px;margin-right:-0.12px">13.748.153</div>
<div style="position:absolute;right:114.70px;top:183.50px;height:11.59px;line-height:11.59px;font-size:8.3px;color:#111;white-space:nowrap;letter-spacing:0.12px;margin-right:-0.12px">22.610</div>
<div style="position:absolute;left:28.30px;top:195.49px;height:11.59px;line-height:11.59px;font-size:8.3px;color:#111;white-space:nowrap">Puglia</div>
<div style="position:absolute;right:1117.83px;top:195.09px;height:11.59px;line-height:11.59px;font-size:8.3px;color:#111;white-space:nowrap;letter-spacing:0.12px;margin-right:-0.12px">558</div>
<div style="position:absolute;right:1050.95px;top:195.09px;height:11.59px;line-height:11.59px;font-size:8.3px;color:#111;white-space:nowrap;letter-spacing:0.12px;margin-right:-0.12px">27</div>
<div style="position:absolute;right:984.08px;top:195.09px;height:11.59px;line-height:11.59px;font-size:8.3px;color:#111;white-space:nowrap;letter-spacing:0.12px;margin-right:-0.12px">5</div>
<div style="position:absolute;right:917.20px;top:195.09px;height:11.59px;line-height:11.59px;font-size:8.3px;color:#111;white-space:nowrap;letter-spacing:0.12px;margin-right:-0.12px">104.533</div>
<div style="position:absolute;right:850.33px;top:195.09px;height:11.59px;line-height:11.59px;font-size:8.3px;color:#111;white-space:nowrap;letter-spacing:0.12px;margin-right:-0.12px">105.118</div>
<div style="position:absolute;right:783.45px;top:195.09px;height:11.59px;line-height:11.59px;font-size:8.3px;color:#111;white-space:nowrap;letter-spacing:0.12px;margin-right:-0.12px">948.975</div>
<div style="position:absolute;right:716.58px;top:195.09px;height:11.59px;line-height:11.59px;font-size:8.3px;color:#111;white-space:nowrap;letter-spacing:0.12px;margin-right:-0.12px">8.258</div>
<div style="position:absolute;right:649.70px;top:195.09px;height:11.59px;line-height:11.59px;font-size:8.3px;color:#111;white-space:nowrap;letter-spacing:0.12px;margin-right:-0.12px">478.972</div>
<div style="position:absolute;right:582.83px;top:195.09px;height:11.59px;line-height:11.59px;font-size:8.3px;color:#111;white-space:nowrap;letter-spacing:0.12px;margin-right:-0.12px">583.379</div>
<div style="position:absolute;right:515.95px;top:195.09px;height:11.59px;line-height:11.59px;font-size:8.3px;color:#111;white-space:nowrap;letter-spacing:0.12px;margin-right:-0.12px">1.062.351</div>
<div style="position:absolute;right:449.08px;top:195.09px;height:11.59px;line-height:11.59px;font-size:8.3px;color:#111;white-space:nowrap;letter-spacing:0.12px;margin-right:-0.12px">4.223</div>
<div style="position:absolute;right:382.20px;top:195.09px;height:11.59px;line-height:11.59px;font-size:8.3px;color:#111;white-space:nowrap;letter-spacing:0.12px;margin-right:-0.12px">2.303.130</div>
<div style="position:absolute;right:315.33px;top:195.09px;height:11.59px;line-height:11.59px;font-size:8.3px;color:#111;white-space:nowrap;letter-spacing:0.12px;margin-right:-0.12px">4.280.448</div>
<div style="position:absolute;right:248.45px;top:195.09px;height:11.59px;line-height:11.59px;font-size:8.3px;color:#111;white-space:nowrap;letter-spacing:0.12px;margin-right:-0.12px">6.246.434</div>
<div style="position:absolute;right:181.58px;top:195.09px;height:11.59px;line-height:11.59px;font-size:8.3px;color:#111;white-space:nowrap;letter-spacing:0.12px;margin-right:-0.12px">10.526.882</div>
<div style="position:absolute;right:114.70px;top:195.09px;height:11.59px;line-height:11.59px;font-size:8.3px;color:#111;white-space:nowrap;letter-spacing:0.12px;margin-right:-0.12px">23.955</div>
<div style="position:absolute;left:28.30px;top:207.07px;height:11.59px;line-height:11.59px;font-size:8.3px;color:#111;white-space:nowrap">Marche</div>
<div style="position:absolute;right:1117.83px;top:206.67px;height:11.59px;line-height:11.59px;font-size:8.3px;color:#111;white-space:nowrap;letter-spacing:0.12px;margin-right:-0.12px">172</div>
<div style="position:absolute;right:1050.95px;top:206.67px;height:11.59px;line-height:11.59px;font-size:8.3px;color:#111;white-space:nowrap;letter-spacing:0.12px;margin-right:-0.12px">4</div>
<div style="position:absolute;right:984.08px;top:206.67px;height:11.59px;line-height:11.59px;font-size:8.3px;color:#111;white-space:nowrap;letter-spacing:0.12px;margin-right:-0.12px">0</div>
<div style="position:absolute;right:917.20px;top:206.67px;height:11.59px;line-height:11.59px;font-size:8.3px;color:#111;white-space:nowrap;letter-spacing:0.12px;margin-right:-0.12px">5.764</div>
<div style="position:absolute;right:850.33px;top:206.67px;height:11.59px;line-height:11.59px;font-size:8.3px;color:#111;white-space:nowrap;letter-spacing:0.12px;margin-right:-0.12px">5.940</div>
<div style="position:absolute;right:783.45px;top:206.67px;height:11.59px;line-height:11.59px;font-size:8.3px;color:#111;white-space:nowrap;letter-spacing:0.12px;margin-right:-0.12px">433.157</div>
<div style="position:absolute;right:716.58px;top:206.67px;height:11.59px;line-height:11.59px;font-size:8.3px;color:#111;white-space:nowrap;letter-spacing:0.12px;margin-right:-0.12px">3.835</div>
<div style="position:absolute;right:649.70px;top:206.67px;height:11.59px;line-height:11.59px;font-size:8.3px;color:#111;white-space:nowrap;letter-spacing:0.12px;margin-right:-0.12px">213.609</div>
<div style="position:absolute;right:582.83px;top:206.67px;height:11.59px;line-height:11.59px;font-size:8.3px;color:#111;white-space:nowrap;letter-spacing:0.12px;margin-right:-0.12px">229.323</div>
<div style="position:absolute;right:515.95px;top:206.67px;height:11.59px;line-height:11.59px;font-size:8.3px;color:#111;white-space:nowrap;letter-spacing:0.12px;margin-right:-0.12px">442.932</div>
<div style="position:absolute;right:449.08px;top:206.67px;height:11.59px;line-height:11.59px;font-size:8.3px;color:#111;white-space:nowrap;letter-spacing:0.12px;margin-right:-0.12px">1.735</div>
<div style="position:absolute;right:382.20px;top:206.67px;height:11.59px;line-height:11.59px;font-size:8.3px;color:#111;white-space:nowrap;letter-spacing:0.12px;margin-right:-0.12px">2.012.275</div>
<div style="position:absolute;right:315.33px;top:206.67px;height:11.59px;line-height:11.59px;font-size:8.3px;color:#111;white-space:nowrap;letter-spacing:0.12px;margin-right:-0.12px">1.968.779</div>
<div style="position:absolute;right:248.45px;top:206.67px;height:11.59px;line-height:11.59px;font-size:8.3px;color:#111;white-space:nowrap;letter-spacing:0.12px;margin-right:-0.12px">1.044.814</div>
<div style="position:absolute;right:181.58px;top:206.67px;height:11.59px;line-height:11.59px;font-size:8.3px;color:#111;white-space:nowrap;letter-spacing:0.12px;margin-right:-0.12px">3.013.593</div>
<div style="position:absolute;right:114.70px;top:206.67px;height:11.59px;line-height:11.59px;font-size:8.3px;color:#111;white-space:nowrap;letter-spacing:0.12px;margin-right:-0.12px">4.324</div>
<div style="position:absolute;left:28.30px;top:218.66px;height:11.59px;line-height:11.59px;font-size:8.3px;color:#111;white-space:nowrap">Liguria</div>
<div style="position:absolute;right:1117.83px;top:218.26px;height:11.59px;line-height:11.59px;font-size:8.3px;color:#111;white-space:nowrap;letter-spacing:0.12px;margin-right:-0.12px">317</div>
<div style="position:absolute;right:1050.95px;top:218.26px;height:11.59px;line-height:11.59px;font-size:8.3px;color:#111;white-space:nowrap;letter-spacing:0.12px;margin-right:-0.12px">14</div>
<div style="position:absolute;right:984.08px;top:218.26px;height:11.59px;line-height:11.59px;font-size:8.3px;color:#111;white-space:nowrap;letter-spacing:0.12px;margin-right:-0.12px">1</div>
<div style="position:absolute;right:917.20px;top:218.26px;height:11.59px;line-height:11.59px;font-size:8.3px;color:#111;white-space:nowrap;letter-spacing:0.12px;margin-right:-0.12px">16.682</div>
<div style="position:absolute;right:850.33px;top:218.26px;height:11.59px;line-height:11.59px;font-size:8.3px;color:#111;white-space:nowrap;letter-spacing:0.12px;margin-right:-0.12px">17.013</div>
<div style="position:absolute;right:783.45px;top:218.26px;height:11.59px;line-height:11.59px;font-size:8.3px;color:#111;white-space:nowrap;letter-spacing:0.12px;margin-right:-0.12px">403.358</div>
<div style="position:absolute;right:716.58px;top:218.26px;height:11.59px;line-height:11.59px;font-size:8.3px;color:#111;white-space:nowrap;letter-spacing:0.12px;margin-right:-0.12px">5.269</div>
<div style="position:absolute;right:649.70px;top:218.26px;height:11.59px;line-height:11.59px;font-size:8.3px;color:#111;white-space:nowrap;letter-spacing:0.12px;margin-right:-0.12px">231.227</div>
<div style="position:absolute;right:582.83px;top:218.26px;height:11.59px;line-height:11.59px;font-size:8.3px;color:#111;white-space:nowrap;letter-spacing:0.12px;margin-right:-0.12px">194.413</div>
<div style="position:absolute;right:515.95px;top:218.26px;height:11.59px;line-height:11.59px;font-size:8.3px;color:#111;white-space:nowrap;letter-spacing:0.12px;margin-right:-0.12px">425.640</div>
<div style="position:absolute;right:449.08px;top:218.26px;height:11.59px;line-height:11.59px;font-size:8.3px;color:#111;white-space:nowrap;letter-spacing:0.12px;margin-right:-0.12px">1.334</div>
<div style="position:absolute;right:382.20px;top:218.26px;height:11.59px;line-height:11.59px;font-size:8.3px;color:#111;white-space:nowrap;letter-spacing:0.12px;margin-right:-0.12px">1.303.805</div>
<div style="position:absolute;right:315.33px;top:218.26px;height:11.59px;line-height:11.59px;font-size:8.3px;color:#111;white-space:nowrap;letter-spacing:0.12px;margin-right:-0.12px">2.423.232</div>
<div style="position:absolute;right:248.45px;top:218.26px;height:11.59px;line-height:11.59px;font-size:8.3px;color:#111;white-space:nowrap;letter-spacing:0.12px;margin-right:-0.12px">2.933.576</div>
<div style="position:absolute;right:181.58px;top:218.26px;height:11.59px;line-height:11.59px;font-size:8.3px;color:#111;white-space:nowrap;letter-spacing:0.12px;margin-right:-0.12px">5.356.808</div>
<div style="position:absolute;right:114.70px;top:218.26px;height:11.59px;line-height:11.59px;font-size:8.3px;color:#111;white-space:nowrap;letter-spacing:0.12px;margin-right:-0.12px">9.104</div>
<div style="position:absolute;left:28.30px;top:230.25px;height:11.59px;line-height:11.59px;font-size:8.3px;color:#111;white-space:nowrap">Abruzzo</div>
<div style="position:absolute;right:1117.83px;top:229.85px;height:11.59px;line-height:11.59px;font-size:8.3px;color:#111;white-space:nowrap;letter-spacing:0.12px;margin-right:-0.12px">327</div>
<div style="position:absolute;right:1050.95px;top:229.85px;height:11.59px;line-height:11.59px;font-size:8.3px;color:#111;white-space:nowrap;letter-spacing:0.12px;margin-right:-0.12px">9</div>
<div style="position:absolute;right:984.08px;top:229.85px;height:11.59px;line-height:11.59px;font-size:8.3px;color:#111;white-space:nowrap;letter-spacing:0.12px;margin-right:-0.12px">0</div>
<div style="position:absolute;right:917.20px;top:229.85px;height:11.59px;line-height:11.59px;font-size:8.3px;color:#111;white-space:nowrap;letter-spacing:0.12px;margin-right:-0.12px">55.987</div>
<div style="position:absolute;right:850.33px;top:229.85px;height:11.59px;line-height:11.59px;font-size:8.3px;color:#111;white-space:nowrap;letter-spacing:0.12px;margin-right:-0.12px">56.323</div>
<div style="position:absolute;right:783.45px;top:229.85px;height:11.59px;line-height:11.59px;font-size:8.3px;color:#111;white-space:nowrap;letter-spacing:0.12px;margin-right:-0.12px">312.771</div>
<div style="position:absolute;right:716.58px;top:229.85px;height:11.59px;line-height:11.59px;font-size:8.3px;color:#111;white-space:nowrap;letter-spacing:0.12px;margin-right:-0.12px">3.213</div>
<div style="position:absolute;right:649.70px;top:229.85px;height:11.59px;line-height:11.59px;font-size:8.3px;color:#111;white-space:nowrap;letter-spacing:0.12px;margin-right:-0.12px">182.591</div>
<div style="position:absolute;right:582.83px;top:229.85px;height:11.59px;line-height:11.59px;font-size:8.3px;color:#111;white-space:nowrap;letter-spacing:0.12px;margin-right:-0.12px">189.716</div>
<div style="position:absolute;right:515.95px;top:229.85px;height:11.59px;line-height:11.59px;font-size:8.3px;color:#111;white-space:nowrap;letter-spacing:0.12px;margin-right:-0.12px">372.307</div>
<div style="position:absolute;right:449.08px;top:229.85px;height:11.59px;line-height:11.59px;font-size:8.3px;color:#111;white-space:nowrap;letter-spacing:0.12px;margin-right:-0.12px">2.160</div>
<div style="position:absolute;right:382.20px;top:229.85px;height:11.59px;line-height:11.59px;font-size:8.3px;color:#111;white-space:nowrap;letter-spacing:0.12px;margin-right:-0.12px">1.226.029</div>
<div style="position:absolute;right:315.33px;top:229.85px;height:11.59px;line-height:11.59px;font-size:8.3px;color:#111;white-space:nowrap;letter-spacing:0.12px;margin-right:-0.12px">2.260.667</div>
<div style="position:absolute;right:248.45px;top:229.85px;height:11.59px;line-height:11.59px;font-size:8.3px;color:#111;white-space:nowrap;letter-spacing:0.12px;margin-right:-0.12px">3.551.621</div>
<div style="position:absolute;right:181.58px;top:229.85px;height:11.59px;line-height:11.59px;font-size:8.3px;color:#111;white-space:nowrap;letter-spacing:0.12px;margin-right:-0.12px">5.812.288</div>
<div style="position:absolute;right:114.70px;top:229.85px;height:11.59px;line-height:11.59px;font-size:8.3px;color:#111;white-space:nowrap;letter-spacing:0.12px;margin-right:-0.12px">14.070</div>
<div style="position:absolute;left:28.30px;top:241.83px;height:11.59px;line-height:11.59px;font-size:8.3px;color:#111;white-space:nowrap">Friuli Venezia Giulia</div>
<div style="position:absolute;right:1117.83px;top:241.43px;height:11.59px;line-height:11.59px;font-size:8.3px;color:#111;white-space:nowrap;letter-spacing:0.12px;margin-right:-0.12px">155</div>
<div style="position:absolute;right:1050.95px;top:241.43px;height:11.59px;line-height:11.59px;font-size:8.3px;color:#111;white-space:nowrap;letter-spacing:0.12px;margin-right:-0.12px">4</div>
<div style="position:absolute;right:984.08px;top:241.43px;height:11.59px;line-height:11.59px;font-size:8.3px;color:#111;white-space:nowrap;letter-spacing:0.12px;margin-right:-0.12px">0</div>
<div style="position:absolute;right:917.20px;top:241.43px;height:11.59px;line-height:11.59px;font-size:8.3px;color:#111;white-space:nowrap;letter-spacing:0.12px;margin-right:-0.12px">24.415</div>
<div style="position:absolute;right:850.33px;top:241.43px;height:11.59px;line-height:11.59px;font-size:8.3px;color:#111;white-space:nowrap;letter-spacing:0.12px;margin-right:-0.12px">24.574</div>
<div style="position:absolute;right:783.45px;top:241.43px;height:11.59px;line-height:11.59px;font-size:8.3px;color:#111;white-space:nowrap;letter-spacing:0.12px;margin-right:-0.12px">332.776</div>
<div style="position:absolute;right:716.58px;top:241.43px;height:11.59px;line-height:11.59px;font-size:8.3px;color:#111;white-space:nowrap;letter-spacing:0.12px;margin-right:-0.12px">4.998</div>
<div style="position:absolute;right:649.70px;top:241.43px;height:11.59px;line-height:11.59px;font-size:8.3px;color:#111;white-space:nowrap;letter-spacing:0.12px;margin-right:-0.12px">197.358</div>
<div style="position:absolute;right:582.83px;top:241.43px;height:11.59px;line-height:11.59px;font-size:8.3px;color:#111;white-space:nowrap;letter-spacing:0.12px;margin-right:-0.12px">164.990</div>
<div style="position:absolute;right:515.95px;top:241.43px;height:11.59px;line-height:11.59px;font-size:8.3px;color:#111;white-space:nowrap;letter-spacing:0.12px;margin-right:-0.12px">362.348</div>
<div style="position:absolute;right:449.08px;top:241.43px;height:11.59px;line-height:11.59px;font-size:8.3px;color:#111;white-space:nowrap;letter-spacing:0.12px;margin-right:-0.12px">942</div>
<div style="position:absolute;right:382.20px;top:241.43px;height:11.59px;line-height:11.59px;font-size:8.3px;color:#111;white-space:nowrap;letter-spacing:0.12px;margin-right:-0.12px">1.128.385</div>
<div style="position:absolute;right:315.33px;top:241.43px;height:11.59px;line-height:11.59px;font-size:8.3px;color:#111;white-space:nowrap;letter-spacing:0.12px;margin-right:-0.12px">3.291.570</div>
<div style="position:absolute;right:248.45px;top:241.43px;height:11.59px;line-height:11.59px;font-size:8.3px;color:#111;white-space:nowrap;letter-spacing:0.12px;margin-right:-0.12px">3.052.456</div>
<div style="position:absolute;right:181.58px;top:241.43px;height:11.59px;line-height:11.59px;font-size:8.3px;color:#111;white-space:nowrap;letter-spacing:0.12px;margin-right:-0.12px">6.344.026</div>
<div style="position:absolute;right:114.70px;top:241.43px;height:11.59px;line-height:11.59px;font-size:8.3px;color:#111;white-space:nowrap;letter-spacing:0.12px;margin-right:-0.12px">10.682</div>
<div style="position:absolute;left:28.30px;top:253.42px;height:11.59px;line-height:11.59px;font-size:8.3px;color:#111;white-space:nowrap">Calabria</div>
<div style="position:absolute;right:1117.83px;top:253.02px;height:11.59px;line-height:11.59px;font-size:8.3px;color:#111;white-space:nowrap;letter-spacing:0.12px;margin-right:-0.12px">286</div>
<div style="position:absolute;right:1050.95px;top:253.02px;height:11.59px;line-height:11.59px;font-size:8.3px;color:#111;white-space:nowrap;letter-spacing:0.12px;margin-right:-0.12px">18</div>
<div style="position:absolute;right:984.08px;top:253.02px;height:11.59px;line-height:11.59px;font-size:8.3px;color:#111;white-space:nowrap;letter-spacing:0.12px;margin-right:-0.12px">4</div>
<div style="position:absolute;right:917.20px;top:253.02px;height:11.59px;line-height:11.59px;font-size:8.3px;color:#111;white-space:nowrap;letter-spacing:0.12px;margin-right:-0.12px">85.366</div>
<div style="position:absolute;right:850.33px;top:253.02px;height:11.59px;line-height:11.59px;font-size:8.3px;color:#111;white-space:nowrap;letter-spacing:0.12px;margin-right:-0.12px">85.670</div>
<div style="position:absolute;right:783.45px;top:253.02px;height:11.59px;line-height:11.59px;font-size:8.3px;color:#111;white-space:nowrap;letter-spacing:0.12px;margin-right:-0.12px">268.162</div>
<div style="position:absolute;right:716.58px;top:253.02px;height:11.59px;line-height:11.59px;font-size:8.3px;color:#111;white-space:nowrap;letter-spacing:0.12px;margin-right:-0.12px">2.495</div>
<div style="position:absolute;right:649.70px;top:253.02px;height:11.59px;line-height:11.59px;font-size:8.3px;color:#111;white-space:nowrap;letter-spacing:0.12px;margin-right:-0.12px">182.674</div>
<div style="position:absolute;right:582.83px;top:253.02px;height:11.59px;line-height:11.59px;font-size:8.3px;color:#111;white-space:nowrap;letter-spacing:0.12px;margin-right:-0.12px">173.653</div>
<div style="position:absolute;right:515.95px;top:253.02px;height:11.59px;line-height:11.59px;font-size:8.3px;color:#111;white-space:nowrap;letter-spacing:0.12px;margin-right:-0.12px">356.327</div>
<div style="position:absolute;right:449.08px;top:253.02px;height:11.59px;line-height:11.59px;font-size:8.3px;color:#111;white-space:nowrap;letter-spacing:0.12px;margin-right:-0.12px">1.834</div>
<div style="position:absolute;right:382.20px;top:253.02px;height:11.59px;line-height:11.59px;font-size:8.3px;color:#111;white-space:nowrap;letter-spacing:0.12px;margin-right:-0.12px">2.227.639</div>
<div style="position:absolute;right:315.33px;top:253.02px;height:11.59px;line-height:11.59px;font-size:8.3px;color:#111;white-space:nowrap;letter-spacing:0.12px;margin-right:-0.12px">1.642.409</div>
<div style="position:absolute;right:248.45px;top:253.02px;height:11.59px;line-height:11.59px;font-size:8.3px;color:#111;white-space:nowrap;letter-spacing:0.12px;margin-right:-0.12px">1.293.242</div>
<div style="position:absolute;right:181.58px;top:253.02px;height:11.59px;line-height:11.59px;font-size:8.3px;color:#111;white-space:nowrap;letter-spacing:0.12px;margin-right:-0.12px">2.935.651</div>
<div style="position:absolute;right:114.70px;top:253.02px;height:11.59px;line-height:11.59px;font-size:8.3px;color:#111;white-space:nowrap;letter-spacing:0.12px;margin-right:-0.12px">9.022</div>
<div style="position:absolute;left:28.30px;top:265.00px;height:11.59px;line-height:11.59px;font-size:8.3px;color:#111;white-space:nowrap">Sardegna</div>
<div style="position:absolute;right:1117.83px;top:264.60px;height:11.59px;line-height:11.59px;font-size:8.3px;color:#111;white-space:nowrap;letter-spacing:0.12px;margin-right:-0.12px">303</div>
<div style="position:absolute;right:1050.95px;top:264.60px;height:11.59px;line-height:11.59px;font-size:8.3px;color:#111;white-space:nowrap;letter-spacing:0.12px;margin-right:-0.12px">13</div>
<div style="position:absolute;right:984.08px;top:264.60px;height:11.59px;line-height:11.59px;font-size:8.3px;color:#111;white-space:nowrap;letter-spacing:0.12px;margin-right:-0.12px">1</div>
<div style="position:absolute;right:917.20px;top:264.60px;height:11.59px;line-height:11.59px;font-size:8.3px;color:#111;white-space:nowrap;letter-spacing:0.12px;margin-right:-0.12px">28.888</div>
<div style="position:absolute;right:850.33px;top:264.60px;height:11.59px;line-height:11.59px;font-size:8.3px;color:#111;white-space:nowrap;letter-spacing:0.12px;margin-right:-0.12px">29.204</div>
<div style="position:absolute;right:783.45px;top:264.60px;height:11.59px;line-height:11.59px;font-size:8.3px;color:#111;white-space:nowrap;letter-spacing:0.12px;margin-right:-0.12px">246.748</div>
<div style="position:absolute;right:716.58px;top:264.60px;height:11.59px;line-height:11.59px;font-size:8.3px;color:#111;white-space:nowrap;letter-spacing:0.12px;margin-right:-0.12px">2.349</div>
<div style="position:absolute;right:649.70px;top:264.60px;height:11.59px;line-height:11.59px;font-size:8.3px;color:#111;white-space:nowrap;letter-spacing:0.12px;margin-right:-0.12px">157.735</div>
<div style="position:absolute;right:582.83px;top:264.60px;height:11.59px;line-height:11.59px;font-size:8.3px;color:#111;white-space:nowrap;letter-spacing:0.12px;margin-right:-0.12px">120.566</div>
<div style="position:absolute;right:515.95px;top:264.60px;height:11.59px;line-height:11.59px;font-size:8.3px;color:#111;white-space:nowrap;letter-spacing:0.12px;margin-right:-0.12px">278.301</div>
<div style="position:absolute;right:449.08px;top:264.60px;height:11.59px;line-height:11.59px;font-size:8.3px;color:#111;white-space:nowrap;letter-spacing:0.12px;margin-right:-0.12px">1.686</div>
<div style="position:absolute;right:382.20px;top:264.60px;height:11.59px;line-height:11.59px;font-size:8.3px;color:#111;white-space:nowrap;letter-spacing:0.12px;margin-right:-0.12px">1.592.428</div>
<div style="position:absolute;right:315.33px;top:264.60px;height:11.59px;line-height:11.59px;font-size:8.3px;color:#111;white-space:nowrap;letter-spacing:0.12px;margin-right:-0.12px">1.957.534</div>
<div style="position:absolute;right:248.45px;top:264.60px;height:11.59px;line-height:11.59px;font-size:8.3px;color:#111;white-space:nowrap;letter-spacing:0.12px;margin-right:-0.12px">2.398.688</div>
<div style="position:absolute;right:181.58px;top:264.60px;height:11.59px;line-height:11.59px;font-size:8.3px;color:#111;white-space:nowrap;letter-spacing:0.12px;margin-right:-0.12px">4.356.222</div>
<div style="position:absolute;right:114.70px;top:264.60px;height:11.59px;line-height:11.59px;font-size:8.3px;color:#111;white-space:nowrap;letter-spacing:0.12px;margin-right:-0.12px">8.862</div>
<div style="position:absolute;left:28.30px;top:276.59px;height:11.59px;line-height:11.59px;font-size:8.3px;color:#111;white-space:nowrap">Umbria</div>
<div style="position:absolute;right:1117.83px;top:276.19px;height:11.59px;line-height:11.59px;font-size:8.3px;color:#111;white-space:nowrap;letter-spacing:0.12px;margin-right:-0.12px">209</div>
<div style="position:absolute;right:1050.95px;top:276.19px;height:11.59px;line-height:11.59px;font-size:8.3px;color:#111;white-space:nowrap;letter-spacing:0.12px;margin-right:-0.12px">4</div>
<div style="position:absolute;right:984.08px;top:276.19px;height:11.59px;line-height:11.59px;font-size:8.3px;color:#111;white-space:nowrap;letter-spacing:0.12px;margin-right:-0.12px">0</div>
<div style="position:absolute;right:917.20px;top:276.19px;height:11.59px;line-height:11.59px;font-size:8.3px;color:#111;white-space:nowrap;letter-spacing:0.12px;margin-right:-0.12px">12.508</div>
<div style="position:absolute;right:850.33px;top:276.19px;height:11.59px;line-height:11.59px;font-size:8.3px;color:#111;white-space:nowrap;letter-spacing:0.12px;margin-right:-0.12px">12.721</div>
<div style="position:absolute;right:783.45px;top:276.19px;height:11.59px;line-height:11.59px;font-size:8.3px;color:#111;white-space:nowrap;letter-spacing:0.12px;margin-right:-0.12px">252.668</div>
<div style="position:absolute;right:716.58px;top:276.19px;height:11.59px;line-height:11.59px;font-size:8.3px;color:#111;white-space:nowrap;letter-spacing:0.12px;margin-right:-0.12px">1.834</div>
<div style="position:absolute;right:649.70px;top:276.19px;height:11.59px;line-height:11.59px;font-size:8.3px;color:#111;white-space:nowrap;letter-spacing:0.12px;margin-right:-0.12px">137.505</div>
<div style="position:absolute;right:582.83px;top:276.19px;height:11.59px;line-height:11.59px;font-size:8.3px;color:#111;white-space:nowrap;letter-spacing:0.12px;margin-right:-0.12px">129.718</div>
<div style="position:absolute;right:515.95px;top:276.19px;height:11.59px;line-height:11.59px;font-size:8.3px;color:#111;white-space:nowrap;letter-spacing:0.12px;margin-right:-0.12px">267.223</div>
<div style="position:absolute;right:449.08px;top:276.19px;height:11.59px;line-height:11.59px;font-size:8.3px;color:#111;white-space:nowrap;letter-spacing:0.12px;margin-right:-0.12px">1.142</div>
<div style="position:absolute;right:382.20px;top:276.19px;height:11.59px;line-height:11.59px;font-size:8.3px;color:#111;white-space:nowrap;letter-spacing:0.12px;margin-right:-0.12px">715.640</div>
<div style="position:absolute;right:315.33px;top:276.19px;height:11.59px;line-height:11.59px;font-size:8.3px;color:#111;white-space:nowrap;letter-spacing:0.12px;margin-right:-0.12px">1.627.029</div>
<div style="position:absolute;right:248.45px;top:276.19px;height:11.59px;line-height:11.59px;font-size:8.3px;color:#111;white-space:nowrap;letter-spacing:0.12px;margin-right:-0.12px">2.571.328</div>
<div style="position:absolute;right:181.58px;top:276.19px;height:11.59px;line-height:11.59px;font-size:8.3px;color:#111;white-space:nowrap;letter-spacing:0.12px;margin-right:-0.12px">4.198.357</div>
<div style="position:absolute;right:114.70px;top:276.19px;height:11.59px;line-height:11.59px;font-size:8.3px;color:#111;white-space:nowrap;letter-spacing:0.12px;margin-right:-0.12px">5.917</div>
<div style="position:absolute;left:28.30px;top:288.18px;height:11.59px;line-height:11.59px;font-size:8.3px;color:#111;white-space:nowrap">P.A. Bolzano</div>
<div style="position:absolute;right:1117.83px;top:287.78px;height:11.59px;line-height:11.59px;font-size:8.3px;color:#111;white-space:nowrap;letter-spacing:0.12px;margin-right:-0.12px">39</div>
<div style="position:absolute;right:1050.95px;top:287.78px;height:11.59px;line-height:11.59px;font-size:8.3px;color:#111;white-space:nowrap;letter-spacing:0.12px;margin-right:-0.12px">1</div>
<div style="position:absolute;right:984.08px;top:287.78px;height:11.59px;line-height:11.59px;font-size:8.3px;color:#111;white-space:nowrap;letter-spacing:0.12px;margin-right:-0.12px">0</div>
<div style="position:absolute;right:917.20px;top:287.78px;height:11.59px;line-height:11.59px;font-size:8.3px;color:#111;white-space:nowrap;letter-spacing:0.12px;margin-right:-0.12px">3.848</div>
<div style="position:absolute;right:850.33px;top:287.78px;height:11.59px;line-height:11.59px;font-size:8.3px;color:#111;white-space:nowrap;letter-spacing:0.12px;margin-right:-0.12px">3.888</div>
<div style="position:absolute;right:783.45px;top:287.78px;height:11.59px;line-height:11.59px;font-size:8.3px;color:#111;white-space:nowrap;letter-spacing:0.12px;margin-right:-0.12px">205.244</div>
<div style="position:absolute;right:716.58px;top:287.78px;height:11.59px;line-height:11.59px;font-size:8.3px;color:#111;white-space:nowrap;letter-spacing:0.12px;margin-right:-0.12px">1.463</div>
<div style="position:absolute;right:649.70px;top:287.78px;height:11.59px;line-height:11.59px;font-size:8.3px;color:#111;white-space:nowrap;letter-spacing:0.12px;margin-right:-0.12px">84.063</div>
<div style="position:absolute;right:582.83px;top:287.78px;height:11.59px;line-height:11.59px;font-size:8.3px;color:#111;white-space:nowrap;letter-spacing:0.12px;margin-right:-0.12px">126.532</div>
<div style="position:absolute;right:515.95px;top:287.78px;height:11.59px;line-height:11.59px;font-size:8.3px;color:#111;white-space:nowrap;letter-spacing:0.12px;margin-right:-0.12px">210.595</div>
<div style="position:absolute;right:449.08px;top:287.78px;height:11.59px;line-height:11.59px;font-size:8.3px;color:#111;white-space:nowrap;letter-spacing:0.12px;margin-right:-0.12px">357</div>
<div style="position:absolute;right:382.20px;top:287.78px;height:11.59px;line-height:11.59px;font-size:8.3px;color:#111;white-space:nowrap;letter-spacing:0.12px;margin-right:-0.12px">829.289</div>
<div style="position:absolute;right:315.33px;top:287.78px;height:11.59px;line-height:11.59px;font-size:8.3px;color:#111;white-space:nowrap;letter-spacing:0.12px;margin-right:-0.12px">874.890</div>
<div style="position:absolute;right:248.45px;top:287.78px;height:11.59px;line-height:11.59px;font-size:8.3px;color:#111;white-space:nowrap;letter-spacing:0.12px;margin-right:-0.12px">4.204.444</div>
<div style="position:absolute;right:181.58px;top:287.78px;height:11.59px;line-height:11.59px;font-size:8.3px;color:#111;white-space:nowrap;letter-spacing:0.12px;margin-right:-0.12px">5.079.334</div>
<div style="position:absolute;right:114.70px;top:287.78px;height:11.59px;line-height:11.59px;font-size:8.3px;color:#111;white-space:nowrap;letter-spacing:0.12px;margin-right:-0.12px">3.372</div>
<div style="position:absolute;left:28.30px;top:299.76px;height:11.59px;line-height:11.59px;font-size:8.3px;color:#111;white-space:nowrap">P.A. Trento</div>
<div style="position:absolute;right:1117.83px;top:299.36px;height:11.59px;line-height:11.59px;font-size:8.3px;color:#111;white-space:nowrap;letter-spacing:0.12px;margin-right:-0.12px">71</div>
<div style="position:absolute;right:1050.95px;top:299.36px;height:11.59px;line-height:11.59px;font-size:8.3px;color:#111;white-space:nowrap;letter-spacing:0.12px;margin-right:-0.12px">4</div>
<div style="position:absolute;right:984.08px;top:299.36px;height:11.59px;line-height:11.59px;font-size:8.3px;color:#111;white-space:nowrap;letter-spacing:0.12px;margin-right:-0.12px">1</div>
<div style="position:absolute;right:917.20px;top:299.36px;height:11.59px;line-height:11.59px;font-size:8.3px;color:#111;white-space:nowrap;letter-spacing:0.12px;margin-right:-0.12px">3.895</div>
<div style="position:absolute;right:850.33px;top:299.36px;height:11.59px;line-height:11.59px;font-size:8.3px;color:#111;white-space:nowrap;letter-spacing:0.12px;margin-right:-0.12px">3.970</div>
<div style="position:absolute;right:783.45px;top:299.36px;height:11.59px;line-height:11.59px;font-size:8.3px;color:#111;white-space:nowrap;letter-spacing:0.12px;margin-right:-0.12px">155.280</div>
<div style="position:absolute;right:716.58px;top:299.36px;height:11.59px;line-height:11.59px;font-size:8.3px;color:#111;white-space:nowrap;letter-spacing:0.12px;margin-right:-0.12px">1.555</div>
<div style="position:absolute;right:649.70px;top:299.36px;height:11.59px;line-height:11.59px;font-size:8.3px;color:#111;white-space:nowrap;letter-spacing:0.12px;margin-right:-0.12px">43.144</div>
<div style="position:absolute;right:582.83px;top:299.36px;height:11.59px;line-height:11.59px;font-size:8.3px;color:#111;white-space:nowrap;letter-spacing:0.12px;margin-right:-0.12px">117.661</div>
<div style="position:absolute;right:515.95px;top:299.36px;height:11.59px;line-height:11.59px;font-size:8.3px;color:#111;white-space:nowrap;letter-spacing:0.12px;margin-right:-0.12px">160.805</div>
<div style="position:absolute;right:449.08px;top:299.36px;height:11.59px;line-height:11.59px;font-size:8.3px;color:#111;white-space:nowrap;letter-spacing:0.12px;margin-right:-0.12px">438</div>
<div style="position:absolute;right:382.20px;top:299.36px;height:11.59px;line-height:11.59px;font-size:8.3px;color:#111;white-space:nowrap;letter-spacing:0.12px;margin-right:-0.12px">554.914</div>
<div style="position:absolute;right:315.33px;top:299.36px;height:11.59px;line-height:11.59px;font-size:8.3px;color:#111;white-space:nowrap;letter-spacing:0.12px;margin-right:-0.12px">836.839</div>
<div style="position:absolute;right:248.45px;top:299.36px;height:11.59px;line-height:11.59px;font-size:8.3px;color:#111;white-space:nowrap;letter-spacing:0.12px;margin-right:-0.12px">1.748.253</div>
<div style="position:absolute;right:181.58px;top:299.36px;height:11.59px;line-height:11.59px;font-size:8.3px;color:#111;white-space:nowrap;letter-spacing:0.12px;margin-right:-0.12px">2.585.092</div>
<div style="position:absolute;right:114.70px;top:299.36px;height:11.59px;line-height:11.59px;font-size:8.3px;color:#111;white-space:nowrap;letter-spacing:0.12px;margin-right:-0.12px">3.261</div>
<div style="position:absolute;left:28.30px;top:311.35px;height:11.59px;line-height:11.59px;font-size:8.3px;color:#111;white-space:nowrap">Basilicata</div>
<div style="position:absolute;right:1117.83px;top:310.95px;height:11.59px;line-height:11.59px;font-size:8.3px;color:#111;white-space:nowrap;letter-spacing:0.12px;margin-right:-0.12px">109</div>
<div style="position:absolute;right:1050.95px;top:310.95px;height:11.59px;line-height:11.59px;font-size:8.3px;color:#111;white-space:nowrap;letter-spacing:0.12px;margin-right:-0.12px">0</div>
<div style="position:absolute;right:984.08px;top:310.95px;height:11.59px;line-height:11.59px;font-size:8.3px;color:#111;white-space:nowrap;letter-spacing:0.12px;margin-right:-0.12px">0</div>
<div style="position:absolute;right:917.20px;top:310.95px;height:11.59px;line-height:11.59px;font-size:8.3px;color:#111;white-space:nowrap;letter-spacing:0.12px;margin-right:-0.12px">29.386</div>
<div style="position:absolute;right:850.33px;top:310.95px;height:11.59px;line-height:11.59px;font-size:8.3px;color:#111;white-space:nowrap;letter-spacing:0.12px;margin-right:-0.12px">29.495</div>
<div style="position:absolute;right:783.45px;top:310.95px;height:11.59px;line-height:11.59px;font-size:8.3px;color:#111;white-space:nowrap;letter-spacing:0.12px;margin-right:-0.12px">96.503</div>
<div style="position:absolute;right:716.58px;top:310.95px;height:11.59px;line-height:11.59px;font-size:8.3px;color:#111;white-space:nowrap;letter-spacing:0.12px;margin-right:-0.12px">885</div>
<div style="position:absolute;right:649.70px;top:310.95px;height:11.59px;line-height:11.59px;font-size:8.3px;color:#111;white-space:nowrap;letter-spacing:0.12px;margin-right:-0.12px">65.420</div>
<div style="position:absolute;right:582.83px;top:310.95px;height:11.59px;line-height:11.59px;font-size:8.3px;color:#111;white-space:nowrap;letter-spacing:0.12px;margin-right:-0.12px">61.463</div>
<div style="position:absolute;right:515.95px;top:310.95px;height:11.59px;line-height:11.59px;font-size:8.3px;color:#111;white-space:nowrap;letter-spacing:0.12px;margin-right:-0.12px">126.883</div>
<div style="position:absolute;right:449.08px;top:310.95px;height:11.59px;line-height:11.59px;font-size:8.3px;color:#111;white-space:nowrap;letter-spacing:0.12px;margin-right:-0.12px">630</div>
<div style="position:absolute;right:382.20px;top:310.95px;height:11.59px;line-height:11.59px;font-size:8.3px;color:#111;white-space:nowrap;letter-spacing:0.12px;margin-right:-0.12px">343.498</div>
<div style="position:absolute;right:315.33px;top:310.95px;height:11.59px;line-height:11.59px;font-size:8.3px;color:#111;white-space:nowrap;letter-spacing:0.12px;margin-right:-0.12px">654.766</div>
<div style="position:absolute;right:248.45px;top:310.95px;height:11.59px;line-height:11.59px;font-size:8.3px;color:#111;white-space:nowrap;letter-spacing:0.12px;margin-right:-0.12px">350.532</div>
<div style="position:absolute;right:181.58px;top:310.95px;height:11.59px;line-height:11.59px;font-size:8.3px;color:#111;white-space:nowrap;letter-spacing:0.12px;margin-right:-0.12px">1.005.298</div>
<div style="position:absolute;right:114.70px;top:310.95px;height:11.59px;line-height:11.59px;font-size:8.3px;color:#111;white-space:nowrap;letter-spacing:0.12px;margin-right:-0.12px">2.870</div>
<div style="position:absolute;left:28.30px;top:322.93px;height:11.59px;line-height:11.59px;font-size:8.3px;color:#111;white-space:nowrap">Molise</div>
<div style="position:absolute;right:1117.83px;top:322.53px;height:11.59px;line-height:11.59px;font-size:8.3px;color:#111;white-space:nowrap;letter-spacing:0.12px;margin-right:-0.12px">40</div>
<div style="position:absolute;right:1050.95px;top:322.53px;height:11.59px;line-height:11.59px;font-size:8.3px;color:#111;white-space:nowrap;letter-spacing:0.12px;margin-right:-0.12px">0</div>
<div style="position:absolute;right:984.08px;top:322.53px;height:11.59px;line-height:11.59px;font-size:8.3px;color:#111;white-space:nowrap;letter-spacing:0.12px;margin-right:-0.12px">0</div>
<div style="position:absolute;right:917.20px;top:322.53px;height:11.59px;line-height:11.59px;font-size:8.3px;color:#111;white-space:nowrap;letter-spacing:0.12px;margin-right:-0.12px">8.420</div>
<div style="position:absolute;right:850.33px;top:322.53px;height:11.59px;line-height:11.59px;font-size:8.3px;color:#111;white-space:nowrap;letter-spacing:0.12px;margin-right:-0.12px">8.460</div>
<div style="position:absolute;right:783.45px;top:322.53px;height:11.59px;line-height:11.59px;font-size:8.3px;color:#111;white-space:nowrap;letter-spacing:0.12px;margin-right:-0.12px">50.485</div>
<div style="position:absolute;right:716.58px;top:322.53px;height:11.59px;line-height:11.59px;font-size:8.3px;color:#111;white-space:nowrap;letter-spacing:0.12px;margin-right:-0.12px">615</div>
<div style="position:absolute;right:649.70px;top:322.53px;height:11.59px;line-height:11.59px;font-size:8.3px;color:#111;white-space:nowrap;letter-spacing:0.12px;margin-right:-0.12px">25.162</div>
<div style="position:absolute;right:582.83px;top:322.53px;height:11.59px;line-height:11.59px;font-size:8.3px;color:#111;white-space:nowrap;letter-spacing:0.12px;margin-right:-0.12px">34.398</div>
<div style="position:absolute;right:515.95px;top:322.53px;height:11.59px;line-height:11.59px;font-size:8.3px;color:#111;white-space:nowrap;letter-spacing:0.12px;margin-right:-0.12px">59.560</div>
<div style="position:absolute;right:449.08px;top:322.53px;height:11.59px;line-height:11.59px;font-size:8.3px;color:#111;white-space:nowrap;letter-spacing:0.12px;margin-right:-0.12px">407</div>
<div style="position:absolute;right:382.20px;top:322.53px;height:11.59px;line-height:11.59px;font-size:8.3px;color:#111;white-space:nowrap;letter-spacing:0.12px;margin-right:-0.12px">551.236</div>
<div style="position:absolute;right:315.33px;top:322.53px;height:11.59px;line-height:11.59px;font-size:8.3px;color:#111;white-space:nowrap;letter-spacing:0.12px;margin-right:-0.12px">418.910</div>
<div style="position:absolute;right:248.45px;top:322.53px;height:11.59px;line-height:11.59px;font-size:8.3px;color:#111;white-space:nowrap;letter-spacing:0.12px;margin-right:-0.12px">174.548</div>
<div style="position:absolute;right:181.58px;top:322.53px;height:11.59px;line-height:11.59px;font-size:8.3px;color:#111;white-space:nowrap;letter-spacing:0.12px;margin-right:-0.12px">593.458</div>
<div style="position:absolute;right:114.70px;top:322.53px;height:11.59px;line-height:11.59px;font-size:8.3px;color:#111;white-space:nowrap;letter-spacing:0.12px;margin-right:-0.12px">2.110</div>
<div style="position:absolute;left:28.30px;top:334.52px;height:11.59px;line-height:11.59px;font-size:8.3px;color:#111;white-space:nowrap">Valle d'Aosta</div>
<div style="position:absolute;right:1117.83px;top:334.12px;height:11.59px;line-height:11.59px;font-size:8.3px;color:#111;white-space:nowrap;letter-spacing:0.12px;margin-right:-0.12px">21</div>
<div style="position:absolute;right:1050.95px;top:334.12px;height:11.59px;line-height:11.59px;font-size:8.3px;color:#111;white-space:nowrap;letter-spacing:0.12px;margin-right:-0.12px">0</div>
<div style="position:absolute;right:984.08px;top:334.12px;height:11.59px;line-height:11.59px;font-size:8.3px;color:#111;white-space:nowrap;letter-spacing:0.12px;margin-right:-0.12px">0</div>
<div style="position:absolute;right:917.20px;top:334.12px;height:11.59px;line-height:11.59px;font-size:8.3px;color:#111;white-space:nowrap;letter-spacing:0.12px;margin-right:-0.12px">1.480</div>
<div style="position:absolute;right:850.33px;top:334.12px;height:11.59px;line-height:11.59px;font-size:8.3px;color:#111;white-space:nowrap;letter-spacing:0.12px;margin-right:-0.12px">1.501</div>
<div style="position:absolute;right:783.45px;top:334.12px;height:11.59px;line-height:11.59px;font-size:8.3px;color:#111;white-space:nowrap;letter-spacing:0.12px;margin-right:-0.12px">32.941</div>
<div style="position:absolute;right:716.58px;top:334.12px;height:11.59px;line-height:11.59px;font-size:8.3px;color:#111;white-space:nowrap;letter-spacing:0.12px;margin-right:-0.12px">533</div>
<div style="position:absolute;right:649.70px;top:334.12px;height:11.59px;line-height:11.59px;font-size:8.3px;color:#111;white-space:nowrap;letter-spacing:0.12px;margin-right:-0.12px">13.213</div>
<div style="position:absolute;right:582.83px;top:334.12px;height:11.59px;line-height:11.59px;font-size:8.3px;color:#111;white-space:nowrap;letter-spacing:0.12px;margin-right:-0.12px">21.762</div>
<div style="position:absolute;right:515.95px;top:334.12px;height:11.59px;line-height:11.59px;font-size:8.3px;color:#111;white-space:nowrap;letter-spacing:0.12px;margin-right:-0.12px">34.975</div>
<div style="position:absolute;right:449.08px;top:334.12px;height:11.59px;line-height:11.59px;font-size:8.3px;color:#111;white-space:nowrap;letter-spacing:0.12px;margin-right:-0.12px">82</div>
<div style="position:absolute;right:382.20px;top:334.12px;height:11.59px;line-height:11.59px;font-size:8.3px;color:#111;white-space:nowrap;letter-spacing:0.12px;margin-right:-0.12px">133.226</div>
<div style="position:absolute;right:315.33px;top:334.12px;height:11.59px;line-height:11.59px;font-size:8.3px;color:#111;white-space:nowrap;letter-spacing:0.12px;margin-right:-0.12px">138.543</div>
<div style="position:absolute;right:248.45px;top:334.12px;height:11.59px;line-height:11.59px;font-size:8.3px;color:#111;white-space:nowrap;letter-spacing:0.12px;margin-right:-0.12px">369.518</div>
<div style="position:absolute;right:181.58px;top:334.12px;height:11.59px;line-height:11.59px;font-size:8.3px;color:#111;white-space:nowrap;letter-spacing:0.12px;margin-right:-0.12px">508.061</div>
<div style="position:absolute;right:114.70px;top:334.12px;height:11.59px;line-height:11.59px;font-size:8.3px;color:#111;white-space:nowrap;letter-spacing:0.12px;margin-right:-0.12px">747</div>
<div style="position:absolute;left:27.00px;top:345.11px;width:104.00px;height:17.59px;display:flex;align-items:center;justify-content:center;text-align:center;font-size:8.3px;font-weight:bold;color:#111;"><span style="display:inline-block;transform:scaleX(0.87)">TOTALE</span></div>
<div style="position:absolute;right:1118.03px;top:345.51px;height:17.59px;line-height:17.59px;font-size:8.3px;font-weight:bold;color:#111;white-space:nowrap;letter-spacing:0.1px;margin-right:-0.1px">9.942</div>
<div style="position:absolute;right:1051.15px;top:345.51px;height:17.59px;line-height:17.59px;font-size:8.3px;font-weight:bold;color:#111;white-space:nowrap;letter-spacing:0.1px;margin-right:-0.1px">371</div>
<div style="position:absolute;right:984.27px;top:345.51px;height:17.59px;line-height:17.59px;font-size:8.3px;font-weight:bold;color:#111;white-space:nowrap;letter-spacing:0.1px;margin-right:-0.1px">38</div>
<div style="position:absolute;right:917.40px;top:345.51px;height:17.59px;line-height:17.59px;font-size:8.3px;font-weight:bold;color:#111;white-space:nowrap;letter-spacing:0.1px;margin-right:-0.1px">1.236.804</div>
<div style="position:absolute;right:850.52px;top:345.51px;height:17.59px;line-height:17.59px;font-size:8.3px;font-weight:bold;color:#111;white-space:nowrap;letter-spacing:0.1px;margin-right:-0.1px">1.247.117</div>
<div style="position:absolute;right:783.65px;top:345.51px;height:17.59px;line-height:17.59px;font-size:8.3px;font-weight:bold;color:#111;white-space:nowrap;letter-spacing:0.1px;margin-right:-0.1px">14.998.689</div>
<div style="position:absolute;right:716.77px;top:345.51px;height:17.59px;line-height:17.59px;font-size:8.3px;font-weight:bold;color:#7a0000;white-space:nowrap;letter-spacing:0.1px;margin-right:-0.1px">163.377</div>
<div style="position:absolute;right:649.90px;top:345.51px;height:17.59px;line-height:17.59px;font-size:8.3px;font-weight:bold;color:#111;white-space:nowrap;letter-spacing:0.1px;margin-right:-0.1px">8.607.251</div>
<div style="position:absolute;right:583.02px;top:345.51px;height:17.59px;line-height:17.59px;font-size:8.3px;font-weight:bold;color:#111;white-space:nowrap;letter-spacing:0.1px;margin-right:-0.1px">7.801.932</div>
<div style="position:absolute;right:516.15px;top:345.51px;height:17.59px;line-height:17.59px;font-size:8.3px;font-weight:bold;color:#111;white-space:nowrap;letter-spacing:0.1px;margin-right:-0.1px">16.409.183</div>
<div style="position:absolute;right:449.27px;top:345.51px;height:17.59px;line-height:17.59px;font-size:8.3px;font-weight:bold;color:#111;white-space:nowrap;letter-spacing:0.1px;margin-right:-0.1px">58.861</div>
<div style="position:absolute;right:382.40px;top:345.51px;height:17.59px;line-height:17.59px;font-size:8.3px;font-weight:bold;color:#111;white-space:nowrap;letter-spacing:0.1px;margin-right:-0.1px">56.731.492</div>
<div style="position:absolute;right:315.52px;top:345.51px;height:17.59px;line-height:17.59px;font-size:8.3px;font-weight:bold;color:#111;white-space:nowrap;letter-spacing:0.1px;margin-right:-0.1px">90.543.721</div>
<div style="position:absolute;right:248.65px;top:345.51px;height:17.59px;line-height:17.59px;font-size:8.3px;font-weight:bold;color:#111;white-space:nowrap;letter-spacing:0.1px;margin-right:-0.1px">122.846.889</div>
<div style="position:absolute;right:181.78px;top:345.51px;height:17.59px;line-height:17.59px;font-size:8.3px;font-weight:bold;color:#111;white-space:nowrap;letter-spacing:0.1px;margin-right:-0.1px">213.390.610</div>
<div style="position:absolute;right:114.90px;top:345.51px;height:17.59px;line-height:17.59px;font-size:8.3px;font-weight:bold;color:#111;white-space:nowrap;letter-spacing:0.1px;margin-right:-0.1px">381.239</div>
<div style="position:absolute;left:28.3px;top:379.9px;font-size:8.4px;color:#222;white-space:nowrap;line-height:10px">Note:</div>
<div style="position:absolute;left:28.3px;top:398.37px;font-size:6.45px;letter-spacing:0.0105px;color:#222;white-space:nowrap;line-height:7.6px;-webkit-text-stroke:0.04px currentColor">La Regione Abruzzo comunica che dal totale dei casi positivi sono stati eliminati 4 casi: 1 caso in quanto già segnalato da altra Regione e 3 casi in quanto non affetti da Covid-19.</div>
<div style="position:absolute;left:28.3px;top:406.07px;font-size:6.45px;letter-spacing:0.0272px;color:#222;white-space:nowrap;line-height:7.6px;-webkit-text-stroke:0.04px currentColor">La Regione Campania comunica che tre decessi comunicati in data odierna risalgono al giorno 23/04 2022.</div>
<div style="position:absolute;left:28.3px;top:413.17px;font-size:6.45px;letter-spacing:0.032px;color:#222;white-space:nowrap;line-height:7.6px;-webkit-text-stroke:0.04px currentColor">La Regione Emilia-Romagna comunica che dal totale dei casi positivi sono stati eliminati 2 casi, comunicati nei giorni precedenti, in quanto giudicati non affetti da Covid-19.</div>
<div style="position:absolute;left:28.3px;top:420.97px;font-size:6.45px;letter-spacing:0.0017px;color:#222;white-space:nowrap;line-height:7.6px;-webkit-text-stroke:0.04px currentColor">La Regione Friuli Venezia Giulia comunica che dal totale dei casi positivi sono stati eliminati di 3 casi a seguito di 2 test molecolari negativi dopo test antigenico positivo e di una revisione del caso . Comunica, inoltre, che nei dati relativi agli ospedalizzati in Terapia Intensiva e Area Medica sono conteggiati tutti i pazienti risultati positivi a SARS-CoV2 ricoverati sia per Covid-19 che per altra patologia.</div>
<div style="position:absolute;left:28.3px;top:428.07px;font-size:6.45px;letter-spacing:0.0442px;color:#222;white-space:nowrap;line-height:7.6px;-webkit-text-stroke:0.04px currentColor">La Regione Sicilia comunica che sul numero complessivo dei casi confermati comunicati in data odierna, n. 543 sono relativi a giorni precedenti al 28/04/22 e che sul numero complessivo dei decessi comunicati in data odierna N. 2 sono relativi al 29/04/2022 - N. 3 al 28/04/2022 - N. 8 al 27/04/2022 - N. 3 al 26/04/2022 - N. 1 al 23/04/2022 - N. 1 al 06/04/2022 - N. 1 al 02/04/2022.</div>
<div style="position:absolute;left:28.3px;top:436.07px;font-size:6.45px;letter-spacing:-0.0211px;color:#222;white-space:nowrap;line-height:7.6px;-webkit-text-stroke:0.04px currentColor">La Regione Umbria comunica che uno dei ricoveri non UTI appartiene ai codici disciplina di Ostetricia &amp; Ginecologia e Pediatria e che 52 dei ricoveri non UTI appartengono ad altri codici disciplina.</div>
</body></html>
